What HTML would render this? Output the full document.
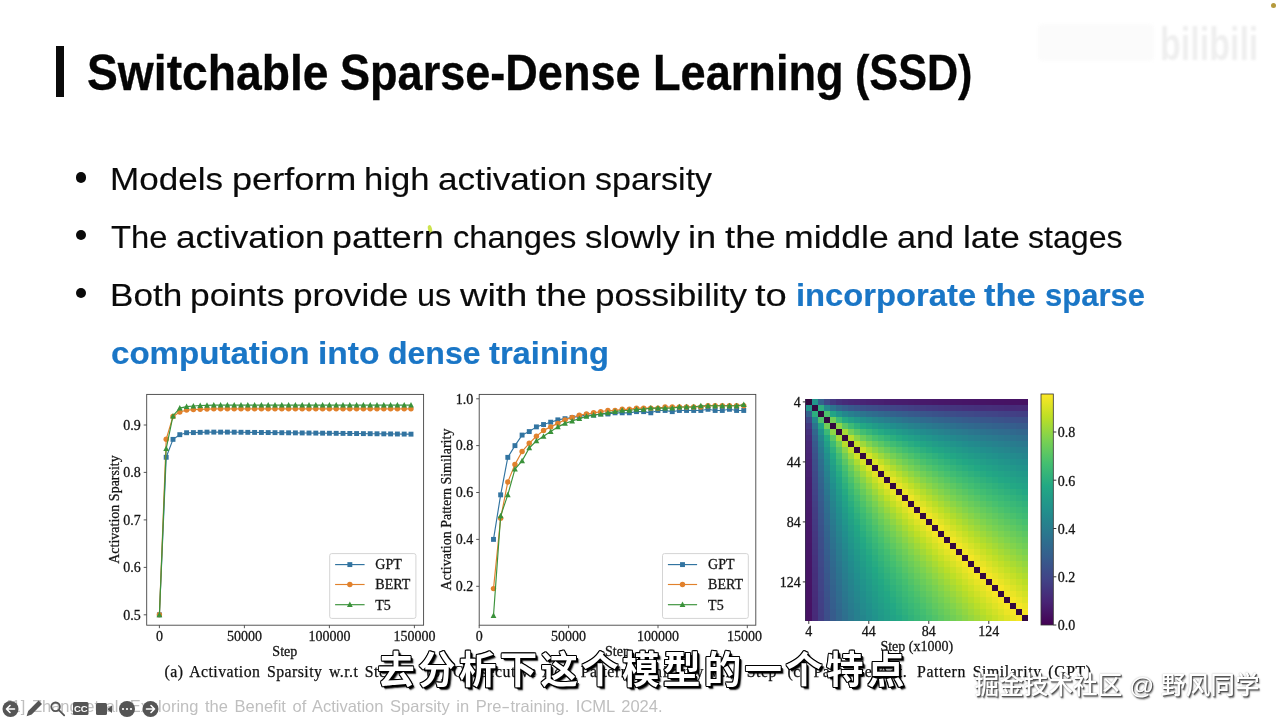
<!DOCTYPE html>
<html lang="en"><head><meta charset="utf-8"><title>Switchable Sparse-Dense Learning (SSD)</title>
<style>
html,body{margin:0;padding:0;background:#fff}
body{width:1280px;height:720px;position:relative;overflow:hidden;font-family:"Liberation Sans","Noto Sans CJK SC",sans-serif;color:#000}
.abs{position:absolute;white-space:nowrap;line-height:1}
.sx{display:inline-block;transform-origin:0 50%}
.w{position:absolute;top:0;transform-origin:0 50%;white-space:pre}
#bar{left:55.5px;top:46px;width:8px;height:51px;background:#0a0a0a}
#title{left:0;top:48.3px;font-size:49.5px;font-weight:bold;color:#050505;-webkit-text-stroke:0.35px #050505}
.bl{left:0;font-size:32.2px;color:#0a0a0a;-webkit-text-stroke:0.15px #0a0a0a}
.dot{position:absolute;left:76.1px;width:10.4px;height:10.4px;border-radius:50%;background:#0a0a0a}
.hl{color:#1a76c6;font-weight:bold;-webkit-text-stroke:0.2px #1a76c6}
.cap{top:663.5px;font-family:"Liberation Serif",serif;font-size:15.8px;color:#111;-webkit-text-stroke:0.25px #111;letter-spacing:0.45px;word-spacing:2.2px}
.cap i{display:inline-block;width:3px}
#foot{left:7px;top:698px;font-size:16.5px;color:#bfbfbf;word-spacing:2px}
#sub{left:2px;width:1281px;top:651.8px;letter-spacing:3.3px;text-align:center;font-family:"Liberation Sans","Noto Sans CJK SC",sans-serif;font-weight:bold;font-size:37.5px;color:#fff;text-shadow:-1px 0 0 #000,1px 0 0 #000,0 -1px 0 #000,0 1px 0 #000,-0.8px -0.8px 0 #000,0.8px -0.8px 0 #000,-0.8px 0.8px 0 #000,0.8px 0.8px 0 #000,2px 2px 0.5px #000,2.8px 2.8px 1.5px rgba(0,0,0,.85)}
#wm{left:974.5px;top:673.5px;font-size:24.65px;color:#fff;font-weight:500;text-shadow:1px 1px 0.5px #555,1.6px 1.6px 1.5px #888,0 0 1.5px #aaa}
#bili{left:1160px;top:21px;font-size:46px;font-weight:bold;color:#efefef;filter:blur(0.8px)}
</style></head><body>
<div class="abs" id="bar"></div>
<div class="abs" style="left:427.5px;top:224.5px;width:4px;height:8px;border-radius:50%;background:#cde34f;transform:rotate(-15deg)"></div>
<div class="abs" id="title"><span class="w" style="left:86.5px;transform:scaleX(0.9340)">Switchable</span> <span class="w" style="left:340.1px;transform:scaleX(0.9103)">Sparse-Dense</span> <span class="w" style="left:652.7px;transform:scaleX(0.9118)">Learning</span> <span class="w" style="left:855.3px;transform:scaleX(0.8716)">(SSD)</span></div>

<div class="dot" style="top:172.2px"></div>
<div class="abs bl" style="top:163px"><span class="w" style="left:110.0px;transform:scaleX(1.0893)">Models</span> <span class="w" style="left:231.5px;transform:scaleX(1.1219)">perform</span> <span class="w" style="left:364.4px;transform:scaleX(1.0749)">high</span> <span class="w" style="left:438.3px;transform:scaleX(1.0922)">activation</span> <span class="w" style="left:595.3px;transform:scaleX(1.0560)">sparsity</span></div>
<div class="dot" style="top:230px"></div>
<div class="abs bl" style="top:221px"><span class="w" style="left:110.6px;transform:scaleX(1.0168)">The</span> <span class="w" style="left:175.5px;transform:scaleX(1.0920)">activation</span> <span class="w" style="left:332.4px;transform:scaleX(1.1143)">pattern</span> <span class="w" style="left:452.6px;transform:scaleX(1.0138)">changes</span> <span class="w" style="left:584.5px;transform:scaleX(1.0828)">slowly</span> <span class="w" style="left:687.9px;transform:scaleX(1.1258)">in</span> <span class="w" style="left:724.5px;transform:scaleX(1.1331)">the</span> <span class="w" style="left:783.7px;transform:scaleX(1.1053)">middle</span> <span class="w" style="left:897.0px;transform:scaleX(1.0639)">and</span> <span class="w" style="left:962.6px;transform:scaleX(1.0947)">late</span> <span class="w" style="left:1027.8px;transform:scaleX(0.9975)">stages</span></div>
<div class="dot" style="top:287.9px"></div>
<div class="abs bl" style="top:279px"><span class="w" style="left:109.5px;transform:scaleX(1.0904)">Both</span> <span class="w" style="left:190.2px;transform:scaleX(1.0987)">points</span> <span class="w" style="left:293.0px;transform:scaleX(1.0924)">provide</span> <span class="w" style="left:416.8px;transform:scaleX(1.0079)">us</span> <span class="w" style="left:459.6px;transform:scaleX(1.1783)">with</span> <span class="w" style="left:535.5px;transform:scaleX(1.1341)">the</span> <span class="w" style="left:594.7px;transform:scaleX(1.0892)">possibility</span> <span class="w" style="left:755.2px;transform:scaleX(1.1869)">to</span> <span class="w hl" style="left:795.5px;transform:scaleX(1.0172)">incorporate</span> <span class="w hl" style="left:984.2px;transform:scaleX(1.0738)">the</span> <span class="w hl" style="left:1044.5px;transform:scaleX(0.9633)">sparse</span></div>
<div class="abs bl hl" style="top:337px"><span class="w" style="left:110.5px;transform:scaleX(1.0279)">computation</span> <span class="w" style="left:317.5px;transform:scaleX(1.0425)">into</span> <span class="w" style="left:387.5px;transform:scaleX(0.9945)">dense</span> <span class="w" style="left:488.5px;transform:scaleX(1.0160)">training</span></div>

<svg id="charts" width="1280" height="720" viewBox="0 0 1280 720" style="position:absolute;left:0;top:0" font-family='"Liberation Serif", serif' fill="#151515" stroke="none">
<style>#charts text{stroke:#151515;stroke-width:0.28px}</style>
<rect x="146.7" y="394.4" width="276.9" height="230.8" fill="#fff" stroke="#444" stroke-width="0.9"/>
<line x1="143.7" y1="614.8" x2="146.7" y2="614.8" stroke="#444" stroke-width="0.9"/>
<text x="140.7" y="619.6" font-size="14" text-anchor="end">0.5</text>
<line x1="143.7" y1="567.4" x2="146.7" y2="567.4" stroke="#444" stroke-width="0.9"/>
<text x="140.7" y="572.1" font-size="14" text-anchor="end">0.6</text>
<line x1="143.7" y1="519.9" x2="146.7" y2="519.9" stroke="#444" stroke-width="0.9"/>
<text x="140.7" y="524.7" font-size="14" text-anchor="end">0.7</text>
<line x1="143.7" y1="472.4" x2="146.7" y2="472.4" stroke="#444" stroke-width="0.9"/>
<text x="140.7" y="477.2" font-size="14" text-anchor="end">0.8</text>
<line x1="143.7" y1="425.0" x2="146.7" y2="425.0" stroke="#444" stroke-width="0.9"/>
<text x="140.7" y="429.8" font-size="14" text-anchor="end">0.9</text>
<line x1="159.4" y1="625.2" x2="159.4" y2="628.2" stroke="#444" stroke-width="0.9"/>
<text x="159.4" y="640.6" font-size="14" text-anchor="middle">0</text>
<line x1="244.4" y1="625.2" x2="244.4" y2="628.2" stroke="#444" stroke-width="0.9"/>
<text x="244.4" y="640.6" font-size="14" text-anchor="middle">50000</text>
<line x1="329.4" y1="625.2" x2="329.4" y2="628.2" stroke="#444" stroke-width="0.9"/>
<text x="329.4" y="640.6" font-size="14" text-anchor="middle">100000</text>
<line x1="414.4" y1="625.2" x2="414.4" y2="628.2" stroke="#444" stroke-width="0.9"/>
<text x="414.4" y="640.6" font-size="14" text-anchor="middle">150000</text>
<polyline points="159.40,614.80 166.20,457.27 173.00,439.38 179.80,434.68 186.60,432.73 193.40,432.59 200.20,432.35 207.00,432.12 213.80,432.12 220.60,432.12 227.40,432.12 234.20,432.19 241.00,432.27 247.80,432.34 254.60,432.42 261.40,432.50 268.20,432.57 275.00,432.65 281.80,432.72 288.60,432.80 295.40,432.87 302.20,432.95 309.00,433.02 315.80,433.10 322.60,433.18 329.40,433.25 336.20,433.33 343.00,433.40 349.80,433.48 356.60,433.55 363.40,433.63 370.20,433.70 377.00,433.78 383.80,433.86 390.60,433.93 397.40,434.01 404.20,434.08 411.00,434.16" fill="none" stroke="#3274a1" stroke-width="1.15" stroke-linejoin="round"/><rect x="156.95" y="612.35" width="4.9" height="4.9" fill="#3274a1"/><rect x="163.75" y="454.82" width="4.9" height="4.9" fill="#3274a1"/><rect x="170.55" y="436.93" width="4.9" height="4.9" fill="#3274a1"/><rect x="177.35" y="432.23" width="4.9" height="4.9" fill="#3274a1"/><rect x="184.15" y="430.28" width="4.9" height="4.9" fill="#3274a1"/><rect x="190.95" y="430.14" width="4.9" height="4.9" fill="#3274a1"/><rect x="197.75" y="429.90" width="4.9" height="4.9" fill="#3274a1"/><rect x="204.55" y="429.67" width="4.9" height="4.9" fill="#3274a1"/><rect x="211.35" y="429.67" width="4.9" height="4.9" fill="#3274a1"/><rect x="218.15" y="429.67" width="4.9" height="4.9" fill="#3274a1"/><rect x="224.95" y="429.67" width="4.9" height="4.9" fill="#3274a1"/><rect x="231.75" y="429.74" width="4.9" height="4.9" fill="#3274a1"/><rect x="238.55" y="429.82" width="4.9" height="4.9" fill="#3274a1"/><rect x="245.35" y="429.89" width="4.9" height="4.9" fill="#3274a1"/><rect x="252.15" y="429.97" width="4.9" height="4.9" fill="#3274a1"/><rect x="258.95" y="430.05" width="4.9" height="4.9" fill="#3274a1"/><rect x="265.75" y="430.12" width="4.9" height="4.9" fill="#3274a1"/><rect x="272.55" y="430.20" width="4.9" height="4.9" fill="#3274a1"/><rect x="279.35" y="430.27" width="4.9" height="4.9" fill="#3274a1"/><rect x="286.15" y="430.35" width="4.9" height="4.9" fill="#3274a1"/><rect x="292.95" y="430.42" width="4.9" height="4.9" fill="#3274a1"/><rect x="299.75" y="430.50" width="4.9" height="4.9" fill="#3274a1"/><rect x="306.55" y="430.57" width="4.9" height="4.9" fill="#3274a1"/><rect x="313.35" y="430.65" width="4.9" height="4.9" fill="#3274a1"/><rect x="320.15" y="430.73" width="4.9" height="4.9" fill="#3274a1"/><rect x="326.95" y="430.80" width="4.9" height="4.9" fill="#3274a1"/><rect x="333.75" y="430.88" width="4.9" height="4.9" fill="#3274a1"/><rect x="340.55" y="430.95" width="4.9" height="4.9" fill="#3274a1"/><rect x="347.35" y="431.03" width="4.9" height="4.9" fill="#3274a1"/><rect x="354.15" y="431.10" width="4.9" height="4.9" fill="#3274a1"/><rect x="360.95" y="431.18" width="4.9" height="4.9" fill="#3274a1"/><rect x="367.75" y="431.25" width="4.9" height="4.9" fill="#3274a1"/><rect x="374.55" y="431.33" width="4.9" height="4.9" fill="#3274a1"/><rect x="381.35" y="431.41" width="4.9" height="4.9" fill="#3274a1"/><rect x="388.15" y="431.48" width="4.9" height="4.9" fill="#3274a1"/><rect x="394.95" y="431.56" width="4.9" height="4.9" fill="#3274a1"/><rect x="401.75" y="431.63" width="4.9" height="4.9" fill="#3274a1"/><rect x="408.55" y="431.71" width="4.9" height="4.9" fill="#3274a1"/>
<polyline points="159.40,614.80 166.20,439.24 173.00,416.46 179.80,412.00 186.60,410.10 193.40,409.58 200.20,409.34 207.00,409.10 213.80,408.87 220.60,408.87 227.40,408.87 234.20,408.87 241.00,408.87 247.80,408.87 254.60,408.87 261.40,408.87 268.20,408.87 275.00,408.87 281.80,408.87 288.60,408.87 295.40,408.87 302.20,408.87 309.00,408.87 315.80,408.87 322.60,408.87 329.40,408.87 336.20,408.87 343.00,408.87 349.80,408.87 356.60,408.87 363.40,408.87 370.20,408.87 377.00,408.87 383.80,408.87 390.60,408.87 397.40,408.87 404.20,408.87 411.00,408.87" fill="none" stroke="#e1812c" stroke-width="1.15" stroke-linejoin="round"/><circle cx="159.40" cy="614.80" r="2.7" fill="#e1812c"/><circle cx="166.20" cy="439.24" r="2.7" fill="#e1812c"/><circle cx="173.00" cy="416.46" r="2.7" fill="#e1812c"/><circle cx="179.80" cy="412.00" r="2.7" fill="#e1812c"/><circle cx="186.60" cy="410.10" r="2.7" fill="#e1812c"/><circle cx="193.40" cy="409.58" r="2.7" fill="#e1812c"/><circle cx="200.20" cy="409.34" r="2.7" fill="#e1812c"/><circle cx="207.00" cy="409.10" r="2.7" fill="#e1812c"/><circle cx="213.80" cy="408.87" r="2.7" fill="#e1812c"/><circle cx="220.60" cy="408.87" r="2.7" fill="#e1812c"/><circle cx="227.40" cy="408.87" r="2.7" fill="#e1812c"/><circle cx="234.20" cy="408.87" r="2.7" fill="#e1812c"/><circle cx="241.00" cy="408.87" r="2.7" fill="#e1812c"/><circle cx="247.80" cy="408.87" r="2.7" fill="#e1812c"/><circle cx="254.60" cy="408.87" r="2.7" fill="#e1812c"/><circle cx="261.40" cy="408.87" r="2.7" fill="#e1812c"/><circle cx="268.20" cy="408.87" r="2.7" fill="#e1812c"/><circle cx="275.00" cy="408.87" r="2.7" fill="#e1812c"/><circle cx="281.80" cy="408.87" r="2.7" fill="#e1812c"/><circle cx="288.60" cy="408.87" r="2.7" fill="#e1812c"/><circle cx="295.40" cy="408.87" r="2.7" fill="#e1812c"/><circle cx="302.20" cy="408.87" r="2.7" fill="#e1812c"/><circle cx="309.00" cy="408.87" r="2.7" fill="#e1812c"/><circle cx="315.80" cy="408.87" r="2.7" fill="#e1812c"/><circle cx="322.60" cy="408.87" r="2.7" fill="#e1812c"/><circle cx="329.40" cy="408.87" r="2.7" fill="#e1812c"/><circle cx="336.20" cy="408.87" r="2.7" fill="#e1812c"/><circle cx="343.00" cy="408.87" r="2.7" fill="#e1812c"/><circle cx="349.80" cy="408.87" r="2.7" fill="#e1812c"/><circle cx="356.60" cy="408.87" r="2.7" fill="#e1812c"/><circle cx="363.40" cy="408.87" r="2.7" fill="#e1812c"/><circle cx="370.20" cy="408.87" r="2.7" fill="#e1812c"/><circle cx="377.00" cy="408.87" r="2.7" fill="#e1812c"/><circle cx="383.80" cy="408.87" r="2.7" fill="#e1812c"/><circle cx="390.60" cy="408.87" r="2.7" fill="#e1812c"/><circle cx="397.40" cy="408.87" r="2.7" fill="#e1812c"/><circle cx="404.20" cy="408.87" r="2.7" fill="#e1812c"/><circle cx="411.00" cy="408.87" r="2.7" fill="#e1812c"/>
<polyline points="159.40,614.80 166.20,448.73 173.00,415.98 179.80,408.11 186.60,406.59 193.40,406.02 200.20,405.55 207.00,405.31 213.80,405.07 220.60,405.07 227.40,405.07 234.20,405.07 241.00,405.07 247.80,405.07 254.60,405.07 261.40,405.07 268.20,405.07 275.00,405.07 281.80,405.07 288.60,405.07 295.40,405.07 302.20,405.07 309.00,405.07 315.80,405.07 322.60,405.07 329.40,405.07 336.20,405.07 343.00,405.07 349.80,405.07 356.60,405.07 363.40,405.07 370.20,405.07 377.00,405.07 383.80,405.07 390.60,405.07 397.40,405.07 404.20,405.07 411.00,405.07" fill="none" stroke="#3a923a" stroke-width="1.15" stroke-linejoin="round"/><path d="M159.40 611.70L162.30 617.20L156.50 617.20Z" fill="#3a923a"/><path d="M166.20 445.62L169.10 451.12L163.30 451.12Z" fill="#3a923a"/><path d="M173.00 412.88L175.90 418.38L170.10 418.38Z" fill="#3a923a"/><path d="M179.80 405.01L182.70 410.51L176.90 410.51Z" fill="#3a923a"/><path d="M186.60 403.49L189.50 408.99L183.70 408.99Z" fill="#3a923a"/><path d="M193.40 402.92L196.30 408.42L190.50 408.42Z" fill="#3a923a"/><path d="M200.20 402.45L203.10 407.95L197.30 407.95Z" fill="#3a923a"/><path d="M207.00 402.21L209.90 407.71L204.10 407.71Z" fill="#3a923a"/><path d="M213.80 401.97L216.70 407.47L210.90 407.47Z" fill="#3a923a"/><path d="M220.60 401.97L223.50 407.47L217.70 407.47Z" fill="#3a923a"/><path d="M227.40 401.97L230.30 407.47L224.50 407.47Z" fill="#3a923a"/><path d="M234.20 401.97L237.10 407.47L231.30 407.47Z" fill="#3a923a"/><path d="M241.00 401.97L243.90 407.47L238.10 407.47Z" fill="#3a923a"/><path d="M247.80 401.97L250.70 407.47L244.90 407.47Z" fill="#3a923a"/><path d="M254.60 401.97L257.50 407.47L251.70 407.47Z" fill="#3a923a"/><path d="M261.40 401.97L264.30 407.47L258.50 407.47Z" fill="#3a923a"/><path d="M268.20 401.97L271.10 407.47L265.30 407.47Z" fill="#3a923a"/><path d="M275.00 401.97L277.90 407.47L272.10 407.47Z" fill="#3a923a"/><path d="M281.80 401.97L284.70 407.47L278.90 407.47Z" fill="#3a923a"/><path d="M288.60 401.97L291.50 407.47L285.70 407.47Z" fill="#3a923a"/><path d="M295.40 401.97L298.30 407.47L292.50 407.47Z" fill="#3a923a"/><path d="M302.20 401.97L305.10 407.47L299.30 407.47Z" fill="#3a923a"/><path d="M309.00 401.97L311.90 407.47L306.10 407.47Z" fill="#3a923a"/><path d="M315.80 401.97L318.70 407.47L312.90 407.47Z" fill="#3a923a"/><path d="M322.60 401.97L325.50 407.47L319.70 407.47Z" fill="#3a923a"/><path d="M329.40 401.97L332.30 407.47L326.50 407.47Z" fill="#3a923a"/><path d="M336.20 401.97L339.10 407.47L333.30 407.47Z" fill="#3a923a"/><path d="M343.00 401.97L345.90 407.47L340.10 407.47Z" fill="#3a923a"/><path d="M349.80 401.97L352.70 407.47L346.90 407.47Z" fill="#3a923a"/><path d="M356.60 401.97L359.50 407.47L353.70 407.47Z" fill="#3a923a"/><path d="M363.40 401.97L366.30 407.47L360.50 407.47Z" fill="#3a923a"/><path d="M370.20 401.97L373.10 407.47L367.30 407.47Z" fill="#3a923a"/><path d="M377.00 401.97L379.90 407.47L374.10 407.47Z" fill="#3a923a"/><path d="M383.80 401.97L386.70 407.47L380.90 407.47Z" fill="#3a923a"/><path d="M390.60 401.97L393.50 407.47L387.70 407.47Z" fill="#3a923a"/><path d="M397.40 401.97L400.30 407.47L394.50 407.47Z" fill="#3a923a"/><path d="M404.20 401.97L407.10 407.47L401.30 407.47Z" fill="#3a923a"/><path d="M411.00 401.97L413.90 407.47L408.10 407.47Z" fill="#3a923a"/>
<rect x="329.7" y="553.6" width="86.2" height="64.8" rx="2" fill="#fff" fill-opacity="0.85" stroke="#d4d4d4" stroke-width="1"/><line x1="335.1" y1="564.6" x2="364.6" y2="564.6" stroke="#3274a1" stroke-width="1.15"/><rect x="347.40" y="562.15" width="4.9" height="4.9" fill="#3274a1"/><text x="375.3" y="569.4" font-size="14">GPT</text><line x1="335.1" y1="584.5" x2="364.6" y2="584.5" stroke="#e1812c" stroke-width="1.15"/><circle cx="349.85" cy="584.50" r="2.7" fill="#e1812c"/><text x="375.3" y="589.3" font-size="14">BERT</text><line x1="335.1" y1="604.7" x2="364.6" y2="604.7" stroke="#3a923a" stroke-width="1.15"/><path d="M349.85 601.60L352.75 607.10L346.95 607.10Z" fill="#3a923a"/><text x="375.3" y="609.5" font-size="14">T5</text>
<text x="284.8" y="655.6" font-size="14" text-anchor="middle">Step</text>
<text transform="translate(118.5,509.5) rotate(-90)" font-size="14" text-anchor="middle">Activation Sparsity</text>
<rect x="479.2" y="394.4" width="276.6" height="230.8" fill="#fff" stroke="#444" stroke-width="0.9"/>
<line x1="476.2" y1="586.3" x2="479.2" y2="586.3" stroke="#444" stroke-width="0.9"/>
<text x="473.2" y="591.1" font-size="14" text-anchor="end">0.2</text>
<line x1="476.2" y1="539.4" x2="479.2" y2="539.4" stroke="#444" stroke-width="0.9"/>
<text x="473.2" y="544.2" font-size="14" text-anchor="end">0.4</text>
<line x1="476.2" y1="492.5" x2="479.2" y2="492.5" stroke="#444" stroke-width="0.9"/>
<text x="473.2" y="497.3" font-size="14" text-anchor="end">0.6</text>
<line x1="476.2" y1="445.6" x2="479.2" y2="445.6" stroke="#444" stroke-width="0.9"/>
<text x="473.2" y="450.4" font-size="14" text-anchor="end">0.8</text>
<line x1="476.2" y1="398.8" x2="479.2" y2="398.8" stroke="#444" stroke-width="0.9"/>
<text x="473.2" y="403.6" font-size="14" text-anchor="end">1.0</text>
<line x1="479.2" y1="625.2" x2="479.2" y2="628.2" stroke="#444" stroke-width="0.9"/>
<text x="479.2" y="640.6" font-size="14" text-anchor="middle">0</text>
<line x1="568.6" y1="625.2" x2="568.6" y2="628.2" stroke="#444" stroke-width="0.9"/>
<text x="568.6" y="640.6" font-size="14" text-anchor="middle">50000</text>
<line x1="658.0" y1="625.2" x2="658.0" y2="628.2" stroke="#444" stroke-width="0.9"/>
<text x="658.0" y="640.6" font-size="14" text-anchor="middle">100000</text>
<line x1="747.3" y1="625.2" x2="747.3" y2="628.2" stroke="#444" stroke-width="0.9"/>
<text x="727" y="640.6" font-size="14" text-anchor="start">15000</text>
<polyline points="493.50,539.39 500.65,494.85 507.80,457.35 514.95,445.63 522.10,435.08 529.25,431.57 536.40,426.88 543.55,424.53 550.70,422.19 557.85,419.85 565.00,418.67 572.15,417.50 579.30,416.33 586.45,415.16 593.60,415.16 600.75,413.99 607.90,413.99 615.05,412.81 622.20,412.81 629.35,412.81 636.50,411.64 643.65,411.64 650.80,412.81 657.95,410.47 665.10,410.47 672.25,411.64 679.40,410.47 686.55,410.47 693.70,410.47 700.85,410.47 708.00,409.30 715.15,410.47 722.30,410.47 729.45,409.30 736.60,410.47 743.75,410.47" fill="none" stroke="#3274a1" stroke-width="1.15" stroke-linejoin="round"/><rect x="491.05" y="536.94" width="4.9" height="4.9" fill="#3274a1"/><rect x="498.20" y="492.40" width="4.9" height="4.9" fill="#3274a1"/><rect x="505.35" y="454.90" width="4.9" height="4.9" fill="#3274a1"/><rect x="512.50" y="443.18" width="4.9" height="4.9" fill="#3274a1"/><rect x="519.65" y="432.63" width="4.9" height="4.9" fill="#3274a1"/><rect x="526.80" y="429.12" width="4.9" height="4.9" fill="#3274a1"/><rect x="533.95" y="424.43" width="4.9" height="4.9" fill="#3274a1"/><rect x="541.10" y="422.08" width="4.9" height="4.9" fill="#3274a1"/><rect x="548.25" y="419.74" width="4.9" height="4.9" fill="#3274a1"/><rect x="555.40" y="417.40" width="4.9" height="4.9" fill="#3274a1"/><rect x="562.55" y="416.22" width="4.9" height="4.9" fill="#3274a1"/><rect x="569.70" y="415.05" width="4.9" height="4.9" fill="#3274a1"/><rect x="576.85" y="413.88" width="4.9" height="4.9" fill="#3274a1"/><rect x="584.00" y="412.71" width="4.9" height="4.9" fill="#3274a1"/><rect x="591.15" y="412.71" width="4.9" height="4.9" fill="#3274a1"/><rect x="598.30" y="411.54" width="4.9" height="4.9" fill="#3274a1"/><rect x="605.45" y="411.54" width="4.9" height="4.9" fill="#3274a1"/><rect x="612.60" y="410.36" width="4.9" height="4.9" fill="#3274a1"/><rect x="619.75" y="410.36" width="4.9" height="4.9" fill="#3274a1"/><rect x="626.90" y="410.36" width="4.9" height="4.9" fill="#3274a1"/><rect x="634.05" y="409.19" width="4.9" height="4.9" fill="#3274a1"/><rect x="641.20" y="409.19" width="4.9" height="4.9" fill="#3274a1"/><rect x="648.35" y="410.36" width="4.9" height="4.9" fill="#3274a1"/><rect x="655.50" y="408.02" width="4.9" height="4.9" fill="#3274a1"/><rect x="662.65" y="408.02" width="4.9" height="4.9" fill="#3274a1"/><rect x="669.80" y="409.19" width="4.9" height="4.9" fill="#3274a1"/><rect x="676.95" y="408.02" width="4.9" height="4.9" fill="#3274a1"/><rect x="684.10" y="408.02" width="4.9" height="4.9" fill="#3274a1"/><rect x="691.25" y="408.02" width="4.9" height="4.9" fill="#3274a1"/><rect x="698.40" y="408.02" width="4.9" height="4.9" fill="#3274a1"/><rect x="705.55" y="406.85" width="4.9" height="4.9" fill="#3274a1"/><rect x="712.70" y="408.02" width="4.9" height="4.9" fill="#3274a1"/><rect x="719.85" y="408.02" width="4.9" height="4.9" fill="#3274a1"/><rect x="727.00" y="406.85" width="4.9" height="4.9" fill="#3274a1"/><rect x="734.15" y="408.02" width="4.9" height="4.9" fill="#3274a1"/><rect x="741.30" y="408.02" width="4.9" height="4.9" fill="#3274a1"/>
<polyline points="493.50,588.61 500.65,518.29 507.80,481.96 514.95,464.38 522.10,451.49 529.25,443.29 536.40,436.25 543.55,430.39 550.70,426.88 557.85,423.36 565.00,419.85 572.15,417.50 579.30,415.16 586.45,413.99 593.60,412.81 600.75,411.64 607.90,410.47 615.05,410.47 622.20,409.30 629.35,409.30 636.50,408.13 643.65,408.13 650.80,408.13 657.95,408.13 665.10,406.95 672.25,406.95 679.40,406.95 686.55,406.95 693.70,406.95 700.85,406.95 708.00,405.78 715.15,405.78 722.30,405.78 729.45,405.78 736.60,405.78 743.75,405.78" fill="none" stroke="#e1812c" stroke-width="1.15" stroke-linejoin="round"/><circle cx="493.50" cy="588.61" r="2.7" fill="#e1812c"/><circle cx="500.65" cy="518.29" r="2.7" fill="#e1812c"/><circle cx="507.80" cy="481.96" r="2.7" fill="#e1812c"/><circle cx="514.95" cy="464.38" r="2.7" fill="#e1812c"/><circle cx="522.10" cy="451.49" r="2.7" fill="#e1812c"/><circle cx="529.25" cy="443.29" r="2.7" fill="#e1812c"/><circle cx="536.40" cy="436.25" r="2.7" fill="#e1812c"/><circle cx="543.55" cy="430.39" r="2.7" fill="#e1812c"/><circle cx="550.70" cy="426.88" r="2.7" fill="#e1812c"/><circle cx="557.85" cy="423.36" r="2.7" fill="#e1812c"/><circle cx="565.00" cy="419.85" r="2.7" fill="#e1812c"/><circle cx="572.15" cy="417.50" r="2.7" fill="#e1812c"/><circle cx="579.30" cy="415.16" r="2.7" fill="#e1812c"/><circle cx="586.45" cy="413.99" r="2.7" fill="#e1812c"/><circle cx="593.60" cy="412.81" r="2.7" fill="#e1812c"/><circle cx="600.75" cy="411.64" r="2.7" fill="#e1812c"/><circle cx="607.90" cy="410.47" r="2.7" fill="#e1812c"/><circle cx="615.05" cy="410.47" r="2.7" fill="#e1812c"/><circle cx="622.20" cy="409.30" r="2.7" fill="#e1812c"/><circle cx="629.35" cy="409.30" r="2.7" fill="#e1812c"/><circle cx="636.50" cy="408.13" r="2.7" fill="#e1812c"/><circle cx="643.65" cy="408.13" r="2.7" fill="#e1812c"/><circle cx="650.80" cy="408.13" r="2.7" fill="#e1812c"/><circle cx="657.95" cy="408.13" r="2.7" fill="#e1812c"/><circle cx="665.10" cy="406.95" r="2.7" fill="#e1812c"/><circle cx="672.25" cy="406.95" r="2.7" fill="#e1812c"/><circle cx="679.40" cy="406.95" r="2.7" fill="#e1812c"/><circle cx="686.55" cy="406.95" r="2.7" fill="#e1812c"/><circle cx="693.70" cy="406.95" r="2.7" fill="#e1812c"/><circle cx="700.85" cy="406.95" r="2.7" fill="#e1812c"/><circle cx="708.00" cy="405.78" r="2.7" fill="#e1812c"/><circle cx="715.15" cy="405.78" r="2.7" fill="#e1812c"/><circle cx="722.30" cy="405.78" r="2.7" fill="#e1812c"/><circle cx="729.45" cy="405.78" r="2.7" fill="#e1812c"/><circle cx="736.60" cy="405.78" r="2.7" fill="#e1812c"/><circle cx="743.75" cy="405.78" r="2.7" fill="#e1812c"/>
<polyline points="493.50,615.57 500.65,515.95 507.80,494.85 514.95,469.07 522.10,460.87 529.25,447.97 536.40,440.94 543.55,436.25 550.70,431.57 557.85,426.88 565.00,423.36 572.15,421.02 579.30,418.67 586.45,416.33 593.60,415.16 600.75,413.99 607.90,412.81 615.05,411.64 622.20,410.47 629.35,410.47 636.50,409.30 643.65,409.30 650.80,408.13 657.95,408.13 665.10,408.13 672.25,408.13 679.40,406.95 686.55,406.95 693.70,406.95 700.85,405.78 708.00,405.78 715.15,405.78 722.30,405.78 729.45,405.78 736.60,405.78 743.75,404.61" fill="none" stroke="#3a923a" stroke-width="1.15" stroke-linejoin="round"/><path d="M493.50 612.47L496.40 617.97L490.60 617.97Z" fill="#3a923a"/><path d="M500.65 512.85L503.55 518.35L497.75 518.35Z" fill="#3a923a"/><path d="M507.80 491.75L510.70 497.25L504.90 497.25Z" fill="#3a923a"/><path d="M514.95 465.97L517.85 471.47L512.05 471.47Z" fill="#3a923a"/><path d="M522.10 457.77L525.00 463.27L519.20 463.27Z" fill="#3a923a"/><path d="M529.25 444.87L532.15 450.37L526.35 450.37Z" fill="#3a923a"/><path d="M536.40 437.84L539.30 443.34L533.50 443.34Z" fill="#3a923a"/><path d="M543.55 433.15L546.45 438.65L540.65 438.65Z" fill="#3a923a"/><path d="M550.70 428.47L553.60 433.97L547.80 433.97Z" fill="#3a923a"/><path d="M557.85 423.78L560.75 429.28L554.95 429.28Z" fill="#3a923a"/><path d="M565.00 420.26L567.90 425.76L562.10 425.76Z" fill="#3a923a"/><path d="M572.15 417.92L575.05 423.42L569.25 423.42Z" fill="#3a923a"/><path d="M579.30 415.57L582.20 421.07L576.40 421.07Z" fill="#3a923a"/><path d="M586.45 413.23L589.35 418.73L583.55 418.73Z" fill="#3a923a"/><path d="M593.60 412.06L596.50 417.56L590.70 417.56Z" fill="#3a923a"/><path d="M600.75 410.89L603.65 416.39L597.85 416.39Z" fill="#3a923a"/><path d="M607.90 409.71L610.80 415.21L605.00 415.21Z" fill="#3a923a"/><path d="M615.05 408.54L617.95 414.04L612.15 414.04Z" fill="#3a923a"/><path d="M622.20 407.37L625.10 412.87L619.30 412.87Z" fill="#3a923a"/><path d="M629.35 407.37L632.25 412.87L626.45 412.87Z" fill="#3a923a"/><path d="M636.50 406.20L639.40 411.70L633.60 411.70Z" fill="#3a923a"/><path d="M643.65 406.20L646.55 411.70L640.75 411.70Z" fill="#3a923a"/><path d="M650.80 405.03L653.70 410.53L647.90 410.53Z" fill="#3a923a"/><path d="M657.95 405.03L660.85 410.53L655.05 410.53Z" fill="#3a923a"/><path d="M665.10 405.03L668.00 410.53L662.20 410.53Z" fill="#3a923a"/><path d="M672.25 405.03L675.15 410.53L669.35 410.53Z" fill="#3a923a"/><path d="M679.40 403.85L682.30 409.35L676.50 409.35Z" fill="#3a923a"/><path d="M686.55 403.85L689.45 409.35L683.65 409.35Z" fill="#3a923a"/><path d="M693.70 403.85L696.60 409.35L690.80 409.35Z" fill="#3a923a"/><path d="M700.85 402.68L703.75 408.18L697.95 408.18Z" fill="#3a923a"/><path d="M708.00 402.68L710.90 408.18L705.10 408.18Z" fill="#3a923a"/><path d="M715.15 402.68L718.05 408.18L712.25 408.18Z" fill="#3a923a"/><path d="M722.30 402.68L725.20 408.18L719.40 408.18Z" fill="#3a923a"/><path d="M729.45 402.68L732.35 408.18L726.55 408.18Z" fill="#3a923a"/><path d="M736.60 402.68L739.50 408.18L733.70 408.18Z" fill="#3a923a"/><path d="M743.75 401.51L746.65 407.01L740.85 407.01Z" fill="#3a923a"/>
<rect x="662.5" y="553.6" width="85.8" height="64.8" rx="2" fill="#fff" fill-opacity="0.85" stroke="#d4d4d4" stroke-width="1"/><line x1="667.9" y1="564.6" x2="697.1" y2="564.6" stroke="#3274a1" stroke-width="1.15"/><rect x="680.05" y="562.15" width="4.9" height="4.9" fill="#3274a1"/><text x="708.1" y="569.4" font-size="14">GPT</text><line x1="667.9" y1="584.5" x2="697.1" y2="584.5" stroke="#e1812c" stroke-width="1.15"/><circle cx="682.50" cy="584.50" r="2.7" fill="#e1812c"/><text x="708.1" y="589.3" font-size="14">BERT</text><line x1="667.9" y1="604.7" x2="697.1" y2="604.7" stroke="#3a923a" stroke-width="1.15"/><path d="M682.50 601.60L685.40 607.10L679.60 607.10Z" fill="#3a923a"/><text x="708.1" y="609.5" font-size="14">T5</text>
<text x="617.5" y="655.6" font-size="14" text-anchor="middle">Step</text>
<text transform="translate(451,509.5) rotate(-90)" font-size="14" text-anchor="middle">Activation Pattern Similarity</text>
<g shape-rendering="crispEdges">
<rect x="805.4" y="398.5" width="222.8" height="222.8" fill="#3a2a55"/>
<rect x="805.8" y="398.9" width="6.2" height="6.2" fill="#33093f"/>
<rect x="811.8" y="398.9" width="6.2" height="6.2" fill="#21958b"/>
<rect x="817.8" y="398.9" width="6.2" height="6.2" fill="#33638d"/>
<rect x="823.8" y="398.9" width="6.2" height="6.2" fill="#3f4988"/>
<rect x="829.8" y="398.9" width="6.2" height="6.2" fill="#433981"/>
<rect x="835.8" y="398.9" width="6.2" height="6.2" fill="#45307c"/>
<rect x="841.8" y="398.9" width="6.2" height="6.2" fill="#462b79"/>
<rect x="847.8" y="398.9" width="6.2" height="6.2" fill="#472877"/>
<rect x="853.8" y="398.9" width="6.2" height="6.2" fill="#482676"/>
<rect x="859.8" y="398.9" width="6.2" height="6.2" fill="#482475"/>
<rect x="865.8" y="398.9" width="6.2" height="6.2" fill="#482273"/>
<rect x="871.8" y="398.9" width="6.2" height="6.2" fill="#482172"/>
<rect x="877.8" y="398.9" width="6.2" height="6.2" fill="#482071"/>
<rect x="883.8" y="398.9" width="6.2" height="6.2" fill="#471e6f"/>
<rect x="889.8" y="398.9" width="6.2" height="6.2" fill="#471d6e"/>
<rect x="895.8" y="398.9" width="6.2" height="6.2" fill="#471c6e"/>
<rect x="901.8" y="398.9" width="6.2" height="6.2" fill="#471c6d"/>
<rect x="907.8" y="398.9" width="6.2" height="6.2" fill="#471b6c"/>
<rect x="913.8" y="398.9" width="6.2" height="6.2" fill="#471a6b"/>
<rect x="919.8" y="398.9" width="6.2" height="6.2" fill="#47196b"/>
<rect x="925.8" y="398.9" width="6.2" height="6.2" fill="#47196a"/>
<rect x="931.8" y="398.9" width="6.2" height="6.2" fill="#471869"/>
<rect x="937.8" y="398.9" width="6.2" height="6.2" fill="#471769"/>
<rect x="943.8" y="398.9" width="6.2" height="6.2" fill="#471768"/>
<rect x="949.8" y="398.9" width="6.2" height="6.2" fill="#461668"/>
<rect x="955.8" y="398.9" width="6.2" height="6.2" fill="#461667"/>
<rect x="961.8" y="398.9" width="6.2" height="6.2" fill="#461567"/>
<rect x="967.8" y="398.9" width="6.2" height="6.2" fill="#461566"/>
<rect x="973.8" y="398.9" width="12.2" height="6.2" fill="#461466"/>
<rect x="985.8" y="398.9" width="6.2" height="6.2" fill="#461465"/>
<rect x="991.8" y="398.9" width="12.2" height="6.2" fill="#461365"/>
<rect x="1003.8" y="398.9" width="6.2" height="6.2" fill="#461364"/>
<rect x="1009.8" y="398.9" width="12.2" height="6.2" fill="#461264"/>
<rect x="1021.8" y="398.9" width="6.2" height="6.2" fill="#461263"/>
<rect x="805.8" y="404.9" width="6.2" height="6.2" fill="#21958b"/>
<rect x="811.8" y="404.9" width="6.2" height="6.2" fill="#33093f"/>
<rect x="817.8" y="404.9" width="6.2" height="6.2" fill="#2daf7e"/>
<rect x="823.8" y="404.9" width="6.2" height="6.2" fill="#23898d"/>
<rect x="829.8" y="404.9" width="6.2" height="6.2" fill="#2c748e"/>
<rect x="835.8" y="404.9" width="6.2" height="6.2" fill="#31678d"/>
<rect x="841.8" y="404.9" width="6.2" height="6.2" fill="#355f8d"/>
<rect x="847.8" y="404.9" width="6.2" height="6.2" fill="#37598c"/>
<rect x="853.8" y="404.9" width="6.2" height="6.2" fill="#39558b"/>
<rect x="859.8" y="404.9" width="6.2" height="6.2" fill="#3b518a"/>
<rect x="865.8" y="404.9" width="6.2" height="6.2" fill="#3c4e89"/>
<rect x="871.8" y="404.9" width="6.2" height="6.2" fill="#3d4c89"/>
<rect x="877.8" y="404.9" width="6.2" height="6.2" fill="#3e4988"/>
<rect x="883.8" y="404.9" width="6.2" height="6.2" fill="#3f4788"/>
<rect x="889.8" y="404.9" width="6.2" height="6.2" fill="#404587"/>
<rect x="895.8" y="404.9" width="6.2" height="6.2" fill="#414387"/>
<rect x="901.8" y="404.9" width="6.2" height="6.2" fill="#414186"/>
<rect x="907.8" y="404.9" width="6.2" height="6.2" fill="#423f84"/>
<rect x="913.8" y="404.9" width="6.2" height="6.2" fill="#423d83"/>
<rect x="919.8" y="404.9" width="6.2" height="6.2" fill="#433c82"/>
<rect x="925.8" y="404.9" width="6.2" height="6.2" fill="#433a82"/>
<rect x="931.8" y="404.9" width="6.2" height="6.2" fill="#433981"/>
<rect x="937.8" y="404.9" width="6.2" height="6.2" fill="#443780"/>
<rect x="943.8" y="404.9" width="6.2" height="6.2" fill="#44367f"/>
<rect x="949.8" y="404.9" width="6.2" height="6.2" fill="#44357e"/>
<rect x="955.8" y="404.9" width="6.2" height="6.2" fill="#44347e"/>
<rect x="961.8" y="404.9" width="6.2" height="6.2" fill="#45327d"/>
<rect x="967.8" y="404.9" width="6.2" height="6.2" fill="#45317d"/>
<rect x="973.8" y="404.9" width="6.2" height="6.2" fill="#45307c"/>
<rect x="979.8" y="404.9" width="6.2" height="6.2" fill="#452f7b"/>
<rect x="985.8" y="404.9" width="6.2" height="6.2" fill="#462f7b"/>
<rect x="991.8" y="404.9" width="6.2" height="6.2" fill="#462e7a"/>
<rect x="997.8" y="404.9" width="6.2" height="6.2" fill="#462d7a"/>
<rect x="1003.8" y="404.9" width="6.2" height="6.2" fill="#462c79"/>
<rect x="1009.8" y="404.9" width="6.2" height="6.2" fill="#462b79"/>
<rect x="1015.8" y="404.9" width="6.2" height="6.2" fill="#472b79"/>
<rect x="1021.8" y="404.9" width="6.2" height="6.2" fill="#472a78"/>
<rect x="805.8" y="410.9" width="6.2" height="6.2" fill="#33638d"/>
<rect x="811.8" y="410.9" width="6.2" height="6.2" fill="#2daf7e"/>
<rect x="817.8" y="410.9" width="6.2" height="6.2" fill="#33093f"/>
<rect x="823.8" y="410.9" width="6.2" height="6.2" fill="#4dc26b"/>
<rect x="829.8" y="410.9" width="6.2" height="6.2" fill="#22a485"/>
<rect x="835.8" y="410.9" width="6.2" height="6.2" fill="#21938c"/>
<rect x="841.8" y="410.9" width="6.2" height="6.2" fill="#24878d"/>
<rect x="847.8" y="410.9" width="6.2" height="6.2" fill="#277f8e"/>
<rect x="853.8" y="410.9" width="6.2" height="6.2" fill="#29798e"/>
<rect x="859.8" y="410.9" width="6.2" height="6.2" fill="#2c748e"/>
<rect x="865.8" y="410.9" width="6.2" height="6.2" fill="#2e6f8e"/>
<rect x="871.8" y="410.9" width="6.2" height="6.2" fill="#2f6c8e"/>
<rect x="877.8" y="410.9" width="6.2" height="6.2" fill="#31688e"/>
<rect x="883.8" y="410.9" width="6.2" height="6.2" fill="#32658d"/>
<rect x="889.8" y="410.9" width="6.2" height="6.2" fill="#33628d"/>
<rect x="895.8" y="410.9" width="6.2" height="6.2" fill="#345f8d"/>
<rect x="901.8" y="410.9" width="6.2" height="6.2" fill="#365d8d"/>
<rect x="907.8" y="410.9" width="6.2" height="6.2" fill="#375a8c"/>
<rect x="913.8" y="410.9" width="6.2" height="6.2" fill="#38588c"/>
<rect x="919.8" y="410.9" width="6.2" height="6.2" fill="#39568b"/>
<rect x="925.8" y="410.9" width="6.2" height="6.2" fill="#3a548b"/>
<rect x="931.8" y="410.9" width="6.2" height="6.2" fill="#3a528a"/>
<rect x="937.8" y="410.9" width="6.2" height="6.2" fill="#3b508a"/>
<rect x="943.8" y="410.9" width="6.2" height="6.2" fill="#3c4e89"/>
<rect x="949.8" y="410.9" width="6.2" height="6.2" fill="#3d4d89"/>
<rect x="955.8" y="410.9" width="6.2" height="6.2" fill="#3d4b89"/>
<rect x="961.8" y="410.9" width="6.2" height="6.2" fill="#3e4a89"/>
<rect x="967.8" y="410.9" width="6.2" height="6.2" fill="#3f4988"/>
<rect x="973.8" y="410.9" width="6.2" height="6.2" fill="#3f4788"/>
<rect x="979.8" y="410.9" width="6.2" height="6.2" fill="#404688"/>
<rect x="985.8" y="410.9" width="6.2" height="6.2" fill="#404587"/>
<rect x="991.8" y="410.9" width="6.2" height="6.2" fill="#414487"/>
<rect x="997.8" y="410.9" width="6.2" height="6.2" fill="#414286"/>
<rect x="1003.8" y="410.9" width="6.2" height="6.2" fill="#414186"/>
<rect x="1009.8" y="410.9" width="6.2" height="6.2" fill="#424085"/>
<rect x="1015.8" y="410.9" width="6.2" height="6.2" fill="#423f84"/>
<rect x="1021.8" y="410.9" width="6.2" height="6.2" fill="#423e84"/>
<rect x="805.8" y="416.9" width="6.2" height="6.2" fill="#3f4988"/>
<rect x="811.8" y="416.9" width="6.2" height="6.2" fill="#23898d"/>
<rect x="817.8" y="416.9" width="6.2" height="6.2" fill="#4dc26b"/>
<rect x="823.8" y="416.9" width="6.2" height="6.2" fill="#33093f"/>
<rect x="829.8" y="416.9" width="6.2" height="6.2" fill="#70ce57"/>
<rect x="835.8" y="416.9" width="6.2" height="6.2" fill="#3bb976"/>
<rect x="841.8" y="416.9" width="6.2" height="6.2" fill="#24a983"/>
<rect x="847.8" y="416.9" width="6.2" height="6.2" fill="#229f87"/>
<rect x="853.8" y="416.9" width="6.2" height="6.2" fill="#21978a"/>
<rect x="859.8" y="416.9" width="6.2" height="6.2" fill="#21908c"/>
<rect x="865.8" y="416.9" width="6.2" height="6.2" fill="#238b8d"/>
<rect x="871.8" y="416.9" width="6.2" height="6.2" fill="#25868d"/>
<rect x="877.8" y="416.9" width="6.2" height="6.2" fill="#26828e"/>
<rect x="883.8" y="416.9" width="6.2" height="6.2" fill="#287e8e"/>
<rect x="889.8" y="416.9" width="6.2" height="6.2" fill="#297a8e"/>
<rect x="895.8" y="416.9" width="6.2" height="6.2" fill="#2a778e"/>
<rect x="901.8" y="416.9" width="6.2" height="6.2" fill="#2c738e"/>
<rect x="907.8" y="416.9" width="6.2" height="6.2" fill="#2d708e"/>
<rect x="913.8" y="416.9" width="6.2" height="6.2" fill="#2e6e8e"/>
<rect x="919.8" y="416.9" width="6.2" height="6.2" fill="#2f6b8e"/>
<rect x="925.8" y="416.9" width="6.2" height="6.2" fill="#31698e"/>
<rect x="931.8" y="416.9" width="6.2" height="6.2" fill="#32668d"/>
<rect x="937.8" y="416.9" width="6.2" height="6.2" fill="#32648d"/>
<rect x="943.8" y="416.9" width="6.2" height="6.2" fill="#33628d"/>
<rect x="949.8" y="416.9" width="6.2" height="6.2" fill="#34608d"/>
<rect x="955.8" y="416.9" width="6.2" height="6.2" fill="#355e8d"/>
<rect x="961.8" y="416.9" width="6.2" height="6.2" fill="#365c8c"/>
<rect x="967.8" y="416.9" width="6.2" height="6.2" fill="#375a8c"/>
<rect x="973.8" y="416.9" width="6.2" height="6.2" fill="#37598c"/>
<rect x="979.8" y="416.9" width="6.2" height="6.2" fill="#38578b"/>
<rect x="985.8" y="416.9" width="6.2" height="6.2" fill="#39568b"/>
<rect x="991.8" y="416.9" width="6.2" height="6.2" fill="#39548b"/>
<rect x="997.8" y="416.9" width="6.2" height="6.2" fill="#3a538a"/>
<rect x="1003.8" y="416.9" width="6.2" height="6.2" fill="#3b518a"/>
<rect x="1009.8" y="416.9" width="6.2" height="6.2" fill="#3b508a"/>
<rect x="1015.8" y="416.9" width="6.2" height="6.2" fill="#3c4f8a"/>
<rect x="1021.8" y="416.9" width="6.2" height="6.2" fill="#3c4e89"/>
<rect x="805.8" y="422.9" width="6.2" height="6.2" fill="#433981"/>
<rect x="811.8" y="422.9" width="6.2" height="6.2" fill="#2c748e"/>
<rect x="817.8" y="422.9" width="6.2" height="6.2" fill="#22a485"/>
<rect x="823.8" y="422.9" width="6.2" height="6.2" fill="#70ce57"/>
<rect x="829.8" y="422.9" width="6.2" height="6.2" fill="#33093f"/>
<rect x="835.8" y="422.9" width="6.2" height="6.2" fill="#8dd545"/>
<rect x="841.8" y="422.9" width="6.2" height="6.2" fill="#59c664"/>
<rect x="847.8" y="422.9" width="6.2" height="6.2" fill="#3dba75"/>
<rect x="853.8" y="422.9" width="6.2" height="6.2" fill="#2eb07d"/>
<rect x="859.8" y="422.9" width="6.2" height="6.2" fill="#23a884"/>
<rect x="865.8" y="422.9" width="6.2" height="6.2" fill="#22a286"/>
<rect x="871.8" y="422.9" width="6.2" height="6.2" fill="#219c88"/>
<rect x="877.8" y="422.9" width="6.2" height="6.2" fill="#21978a"/>
<rect x="883.8" y="422.9" width="6.2" height="6.2" fill="#21938c"/>
<rect x="889.8" y="422.9" width="6.2" height="6.2" fill="#218e8d"/>
<rect x="895.8" y="422.9" width="6.2" height="6.2" fill="#238a8d"/>
<rect x="901.8" y="422.9" width="6.2" height="6.2" fill="#24878d"/>
<rect x="907.8" y="422.9" width="6.2" height="6.2" fill="#26838d"/>
<rect x="913.8" y="422.9" width="6.2" height="6.2" fill="#27808e"/>
<rect x="919.8" y="422.9" width="6.2" height="6.2" fill="#287d8e"/>
<rect x="925.8" y="422.9" width="6.2" height="6.2" fill="#297a8e"/>
<rect x="931.8" y="422.9" width="6.2" height="6.2" fill="#2a778e"/>
<rect x="937.8" y="422.9" width="6.2" height="6.2" fill="#2b758e"/>
<rect x="943.8" y="422.9" width="6.2" height="6.2" fill="#2c728e"/>
<rect x="949.8" y="422.9" width="6.2" height="6.2" fill="#2d708e"/>
<rect x="955.8" y="422.9" width="6.2" height="6.2" fill="#2e6d8e"/>
<rect x="961.8" y="422.9" width="6.2" height="6.2" fill="#2f6b8e"/>
<rect x="967.8" y="422.9" width="6.2" height="6.2" fill="#30698e"/>
<rect x="973.8" y="422.9" width="6.2" height="6.2" fill="#31678d"/>
<rect x="979.8" y="422.9" width="6.2" height="6.2" fill="#32668d"/>
<rect x="985.8" y="422.9" width="6.2" height="6.2" fill="#33648d"/>
<rect x="991.8" y="422.9" width="6.2" height="6.2" fill="#33628d"/>
<rect x="997.8" y="422.9" width="6.2" height="6.2" fill="#34618d"/>
<rect x="1003.8" y="422.9" width="6.2" height="6.2" fill="#355f8d"/>
<rect x="1009.8" y="422.9" width="6.2" height="6.2" fill="#355e8d"/>
<rect x="1015.8" y="422.9" width="6.2" height="6.2" fill="#365c8c"/>
<rect x="1021.8" y="422.9" width="6.2" height="6.2" fill="#375b8c"/>
<rect x="805.8" y="428.9" width="6.2" height="6.2" fill="#45307c"/>
<rect x="811.8" y="428.9" width="6.2" height="6.2" fill="#31678d"/>
<rect x="817.8" y="428.9" width="6.2" height="6.2" fill="#21938c"/>
<rect x="823.8" y="428.9" width="6.2" height="6.2" fill="#3bb976"/>
<rect x="829.8" y="428.9" width="6.2" height="6.2" fill="#8dd545"/>
<rect x="835.8" y="428.9" width="6.2" height="6.2" fill="#33093f"/>
<rect x="841.8" y="428.9" width="6.2" height="6.2" fill="#a6da35"/>
<rect x="847.8" y="428.9" width="6.2" height="6.2" fill="#73cf55"/>
<rect x="853.8" y="428.9" width="6.2" height="6.2" fill="#57c566"/>
<rect x="859.8" y="428.9" width="6.2" height="6.2" fill="#42bd72"/>
<rect x="865.8" y="428.9" width="6.2" height="6.2" fill="#37b678"/>
<rect x="871.8" y="428.9" width="6.2" height="6.2" fill="#2daf7e"/>
<rect x="877.8" y="428.9" width="6.2" height="6.2" fill="#25aa83"/>
<rect x="883.8" y="428.9" width="6.2" height="6.2" fill="#22a485"/>
<rect x="889.8" y="428.9" width="6.2" height="6.2" fill="#22a087"/>
<rect x="895.8" y="428.9" width="6.2" height="6.2" fill="#219b89"/>
<rect x="901.8" y="428.9" width="6.2" height="6.2" fill="#21978a"/>
<rect x="907.8" y="428.9" width="6.2" height="6.2" fill="#21938b"/>
<rect x="913.8" y="428.9" width="6.2" height="6.2" fill="#218f8c"/>
<rect x="919.8" y="428.9" width="6.2" height="6.2" fill="#228c8d"/>
<rect x="925.8" y="428.9" width="6.2" height="6.2" fill="#23898d"/>
<rect x="931.8" y="428.9" width="6.2" height="6.2" fill="#25868d"/>
<rect x="937.8" y="428.9" width="6.2" height="6.2" fill="#26838d"/>
<rect x="943.8" y="428.9" width="6.2" height="6.2" fill="#27808e"/>
<rect x="949.8" y="428.9" width="6.2" height="6.2" fill="#287d8e"/>
<rect x="955.8" y="428.9" width="6.2" height="6.2" fill="#297b8e"/>
<rect x="961.8" y="428.9" width="6.2" height="6.2" fill="#2a798e"/>
<rect x="967.8" y="428.9" width="6.2" height="6.2" fill="#2b768e"/>
<rect x="973.8" y="428.9" width="6.2" height="6.2" fill="#2b748e"/>
<rect x="979.8" y="428.9" width="6.2" height="6.2" fill="#2c728e"/>
<rect x="985.8" y="428.9" width="6.2" height="6.2" fill="#2d708e"/>
<rect x="991.8" y="428.9" width="6.2" height="6.2" fill="#2e6e8e"/>
<rect x="997.8" y="428.9" width="6.2" height="6.2" fill="#2f6c8e"/>
<rect x="1003.8" y="428.9" width="6.2" height="6.2" fill="#306b8e"/>
<rect x="1009.8" y="428.9" width="6.2" height="6.2" fill="#30698e"/>
<rect x="1015.8" y="428.9" width="6.2" height="6.2" fill="#31678d"/>
<rect x="1021.8" y="428.9" width="6.2" height="6.2" fill="#32668d"/>
<rect x="805.8" y="434.9" width="6.2" height="6.2" fill="#462b79"/>
<rect x="811.8" y="434.9" width="6.2" height="6.2" fill="#355f8d"/>
<rect x="817.8" y="434.9" width="6.2" height="6.2" fill="#24878d"/>
<rect x="823.8" y="434.9" width="6.2" height="6.2" fill="#24a983"/>
<rect x="829.8" y="434.9" width="6.2" height="6.2" fill="#59c664"/>
<rect x="835.8" y="434.9" width="6.2" height="6.2" fill="#a6da35"/>
<rect x="841.8" y="434.9" width="6.2" height="6.2" fill="#33093f"/>
<rect x="847.8" y="434.9" width="6.2" height="6.2" fill="#b8de2a"/>
<rect x="853.8" y="434.9" width="6.2" height="6.2" fill="#8bd546"/>
<rect x="859.8" y="434.9" width="6.2" height="6.2" fill="#6dcd58"/>
<rect x="865.8" y="434.9" width="6.2" height="6.2" fill="#59c664"/>
<rect x="871.8" y="434.9" width="6.2" height="6.2" fill="#47c06e"/>
<rect x="877.8" y="434.9" width="6.2" height="6.2" fill="#3dba75"/>
<rect x="883.8" y="434.9" width="6.2" height="6.2" fill="#34b47a"/>
<rect x="889.8" y="434.9" width="6.2" height="6.2" fill="#2caf7e"/>
<rect x="895.8" y="434.9" width="6.2" height="6.2" fill="#25aa82"/>
<rect x="901.8" y="434.9" width="6.2" height="6.2" fill="#22a585"/>
<rect x="907.8" y="434.9" width="6.2" height="6.2" fill="#22a187"/>
<rect x="913.8" y="434.9" width="6.2" height="6.2" fill="#219d88"/>
<rect x="919.8" y="434.9" width="6.2" height="6.2" fill="#219989"/>
<rect x="925.8" y="434.9" width="6.2" height="6.2" fill="#21968b"/>
<rect x="931.8" y="434.9" width="6.2" height="6.2" fill="#21928c"/>
<rect x="937.8" y="434.9" width="6.2" height="6.2" fill="#218f8d"/>
<rect x="943.8" y="434.9" width="6.2" height="6.2" fill="#228c8d"/>
<rect x="949.8" y="434.9" width="6.2" height="6.2" fill="#23898d"/>
<rect x="955.8" y="434.9" width="6.2" height="6.2" fill="#24868d"/>
<rect x="961.8" y="434.9" width="6.2" height="6.2" fill="#25848d"/>
<rect x="967.8" y="434.9" width="6.2" height="6.2" fill="#26818e"/>
<rect x="973.8" y="434.9" width="6.2" height="6.2" fill="#277f8e"/>
<rect x="979.8" y="434.9" width="6.2" height="6.2" fill="#287d8e"/>
<rect x="985.8" y="434.9" width="6.2" height="6.2" fill="#297b8e"/>
<rect x="991.8" y="434.9" width="6.2" height="6.2" fill="#2a798e"/>
<rect x="997.8" y="434.9" width="6.2" height="6.2" fill="#2a778e"/>
<rect x="1003.8" y="434.9" width="6.2" height="6.2" fill="#2b758e"/>
<rect x="1009.8" y="434.9" width="6.2" height="6.2" fill="#2c738e"/>
<rect x="1015.8" y="434.9" width="6.2" height="6.2" fill="#2d718e"/>
<rect x="1021.8" y="434.9" width="6.2" height="6.2" fill="#2e6f8e"/>
<rect x="805.8" y="440.9" width="6.2" height="6.2" fill="#472877"/>
<rect x="811.8" y="440.9" width="6.2" height="6.2" fill="#37598c"/>
<rect x="817.8" y="440.9" width="6.2" height="6.2" fill="#277f8e"/>
<rect x="823.8" y="440.9" width="6.2" height="6.2" fill="#229f87"/>
<rect x="829.8" y="440.9" width="6.2" height="6.2" fill="#3dba75"/>
<rect x="835.8" y="440.9" width="6.2" height="6.2" fill="#73cf55"/>
<rect x="841.8" y="440.9" width="6.2" height="6.2" fill="#b8de2a"/>
<rect x="847.8" y="440.9" width="6.2" height="6.2" fill="#33093f"/>
<rect x="853.8" y="440.9" width="6.2" height="6.2" fill="#c5e026"/>
<rect x="859.8" y="440.9" width="6.2" height="6.2" fill="#9ed93a"/>
<rect x="865.8" y="440.9" width="6.2" height="6.2" fill="#80d34d"/>
<rect x="871.8" y="440.9" width="6.2" height="6.2" fill="#6bcc5a"/>
<rect x="877.8" y="440.9" width="6.2" height="6.2" fill="#5ac763"/>
<rect x="883.8" y="440.9" width="6.2" height="6.2" fill="#4bc16c"/>
<rect x="889.8" y="440.9" width="6.2" height="6.2" fill="#40bc73"/>
<rect x="895.8" y="440.9" width="6.2" height="6.2" fill="#38b777"/>
<rect x="901.8" y="440.9" width="6.2" height="6.2" fill="#31b27c"/>
<rect x="907.8" y="440.9" width="6.2" height="6.2" fill="#2aad80"/>
<rect x="913.8" y="440.9" width="6.2" height="6.2" fill="#24a983"/>
<rect x="919.8" y="440.9" width="6.2" height="6.2" fill="#22a585"/>
<rect x="925.8" y="440.9" width="6.2" height="6.2" fill="#22a186"/>
<rect x="931.8" y="440.9" width="6.2" height="6.2" fill="#229d88"/>
<rect x="937.8" y="440.9" width="6.2" height="6.2" fill="#219a89"/>
<rect x="943.8" y="440.9" width="6.2" height="6.2" fill="#21978a"/>
<rect x="949.8" y="440.9" width="6.2" height="6.2" fill="#21948b"/>
<rect x="955.8" y="440.9" width="6.2" height="6.2" fill="#21918c"/>
<rect x="961.8" y="440.9" width="6.2" height="6.2" fill="#218e8d"/>
<rect x="967.8" y="440.9" width="6.2" height="6.2" fill="#228b8d"/>
<rect x="973.8" y="440.9" width="6.2" height="6.2" fill="#23898d"/>
<rect x="979.8" y="440.9" width="6.2" height="6.2" fill="#24868d"/>
<rect x="985.8" y="440.9" width="6.2" height="6.2" fill="#25848d"/>
<rect x="991.8" y="440.9" width="6.2" height="6.2" fill="#26828e"/>
<rect x="997.8" y="440.9" width="6.2" height="6.2" fill="#27808e"/>
<rect x="1003.8" y="440.9" width="6.2" height="6.2" fill="#287e8e"/>
<rect x="1009.8" y="440.9" width="6.2" height="6.2" fill="#287c8e"/>
<rect x="1015.8" y="440.9" width="6.2" height="6.2" fill="#297a8e"/>
<rect x="1021.8" y="440.9" width="6.2" height="6.2" fill="#2a788e"/>
<rect x="805.8" y="446.9" width="6.2" height="6.2" fill="#482676"/>
<rect x="811.8" y="446.9" width="6.2" height="6.2" fill="#39558b"/>
<rect x="817.8" y="446.9" width="6.2" height="6.2" fill="#29798e"/>
<rect x="823.8" y="446.9" width="6.2" height="6.2" fill="#21978a"/>
<rect x="829.8" y="446.9" width="6.2" height="6.2" fill="#2eb07d"/>
<rect x="835.8" y="446.9" width="6.2" height="6.2" fill="#57c566"/>
<rect x="841.8" y="446.9" width="6.2" height="6.2" fill="#8bd546"/>
<rect x="847.8" y="446.9" width="6.2" height="6.2" fill="#c5e026"/>
<rect x="853.8" y="446.9" width="6.2" height="6.2" fill="#33093f"/>
<rect x="859.8" y="446.9" width="6.2" height="6.2" fill="#cfe126"/>
<rect x="865.8" y="446.9" width="6.2" height="6.2" fill="#addc30"/>
<rect x="871.8" y="446.9" width="6.2" height="6.2" fill="#91d642"/>
<rect x="877.8" y="446.9" width="6.2" height="6.2" fill="#7ad151"/>
<rect x="883.8" y="446.9" width="6.2" height="6.2" fill="#69cc5b"/>
<rect x="889.8" y="446.9" width="6.2" height="6.2" fill="#5ac763"/>
<rect x="895.8" y="446.9" width="6.2" height="6.2" fill="#4dc26b"/>
<rect x="901.8" y="446.9" width="6.2" height="6.2" fill="#42bd72"/>
<rect x="907.8" y="446.9" width="6.2" height="6.2" fill="#3ab876"/>
<rect x="913.8" y="446.9" width="6.2" height="6.2" fill="#34b47a"/>
<rect x="919.8" y="446.9" width="6.2" height="6.2" fill="#2daf7e"/>
<rect x="925.8" y="446.9" width="6.2" height="6.2" fill="#27ab81"/>
<rect x="931.8" y="446.9" width="6.2" height="6.2" fill="#22a784"/>
<rect x="937.8" y="446.9" width="6.2" height="6.2" fill="#22a485"/>
<rect x="943.8" y="446.9" width="6.2" height="6.2" fill="#22a087"/>
<rect x="949.8" y="446.9" width="6.2" height="6.2" fill="#229d88"/>
<rect x="955.8" y="446.9" width="6.2" height="6.2" fill="#219a89"/>
<rect x="961.8" y="446.9" width="6.2" height="6.2" fill="#21978a"/>
<rect x="967.8" y="446.9" width="6.2" height="6.2" fill="#21948b"/>
<rect x="973.8" y="446.9" width="6.2" height="6.2" fill="#21928c"/>
<rect x="979.8" y="446.9" width="6.2" height="6.2" fill="#218f8d"/>
<rect x="985.8" y="446.9" width="6.2" height="6.2" fill="#228d8d"/>
<rect x="991.8" y="446.9" width="6.2" height="6.2" fill="#238a8d"/>
<rect x="997.8" y="446.9" width="6.2" height="6.2" fill="#24888d"/>
<rect x="1003.8" y="446.9" width="6.2" height="6.2" fill="#25868d"/>
<rect x="1009.8" y="446.9" width="6.2" height="6.2" fill="#25838d"/>
<rect x="1015.8" y="446.9" width="6.2" height="6.2" fill="#26818e"/>
<rect x="1021.8" y="446.9" width="6.2" height="6.2" fill="#27808e"/>
<rect x="805.8" y="452.9" width="6.2" height="6.2" fill="#482475"/>
<rect x="811.8" y="452.9" width="6.2" height="6.2" fill="#3b518a"/>
<rect x="817.8" y="452.9" width="6.2" height="6.2" fill="#2c748e"/>
<rect x="823.8" y="452.9" width="6.2" height="6.2" fill="#21908c"/>
<rect x="829.8" y="452.9" width="6.2" height="6.2" fill="#23a884"/>
<rect x="835.8" y="452.9" width="6.2" height="6.2" fill="#42bd72"/>
<rect x="841.8" y="452.9" width="6.2" height="6.2" fill="#6dcd58"/>
<rect x="847.8" y="452.9" width="6.2" height="6.2" fill="#9ed93a"/>
<rect x="853.8" y="452.9" width="6.2" height="6.2" fill="#cfe126"/>
<rect x="859.8" y="452.9" width="6.2" height="6.2" fill="#33093f"/>
<rect x="865.8" y="452.9" width="6.2" height="6.2" fill="#d7e226"/>
<rect x="871.8" y="452.9" width="6.2" height="6.2" fill="#b8de29"/>
<rect x="877.8" y="452.9" width="6.2" height="6.2" fill="#9ed93a"/>
<rect x="883.8" y="452.9" width="6.2" height="6.2" fill="#88d448"/>
<rect x="889.8" y="452.9" width="6.2" height="6.2" fill="#75d054"/>
<rect x="895.8" y="452.9" width="6.2" height="6.2" fill="#66cb5c"/>
<rect x="901.8" y="452.9" width="6.2" height="6.2" fill="#59c664"/>
<rect x="907.8" y="452.9" width="6.2" height="6.2" fill="#4dc26b"/>
<rect x="913.8" y="452.9" width="6.2" height="6.2" fill="#42be71"/>
<rect x="919.8" y="452.9" width="6.2" height="6.2" fill="#3bb975"/>
<rect x="925.8" y="452.9" width="6.2" height="6.2" fill="#35b579"/>
<rect x="931.8" y="452.9" width="6.2" height="6.2" fill="#2fb17d"/>
<rect x="937.8" y="452.9" width="6.2" height="6.2" fill="#29ad80"/>
<rect x="943.8" y="452.9" width="6.2" height="6.2" fill="#24a983"/>
<rect x="949.8" y="452.9" width="6.2" height="6.2" fill="#22a685"/>
<rect x="955.8" y="452.9" width="6.2" height="6.2" fill="#22a286"/>
<rect x="961.8" y="452.9" width="6.2" height="6.2" fill="#229f87"/>
<rect x="967.8" y="452.9" width="6.2" height="6.2" fill="#219c88"/>
<rect x="973.8" y="452.9" width="6.2" height="6.2" fill="#219989"/>
<rect x="979.8" y="452.9" width="6.2" height="6.2" fill="#21978a"/>
<rect x="985.8" y="452.9" width="6.2" height="6.2" fill="#21948b"/>
<rect x="991.8" y="452.9" width="6.2" height="6.2" fill="#21928c"/>
<rect x="997.8" y="452.9" width="6.2" height="6.2" fill="#218f8c"/>
<rect x="1003.8" y="452.9" width="6.2" height="6.2" fill="#228d8d"/>
<rect x="1009.8" y="452.9" width="6.2" height="6.2" fill="#238b8d"/>
<rect x="1015.8" y="452.9" width="6.2" height="6.2" fill="#24898d"/>
<rect x="1021.8" y="452.9" width="6.2" height="6.2" fill="#24868d"/>
<rect x="805.8" y="458.9" width="6.2" height="6.2" fill="#482273"/>
<rect x="811.8" y="458.9" width="6.2" height="6.2" fill="#3c4e89"/>
<rect x="817.8" y="458.9" width="6.2" height="6.2" fill="#2e6f8e"/>
<rect x="823.8" y="458.9" width="6.2" height="6.2" fill="#238b8d"/>
<rect x="829.8" y="458.9" width="6.2" height="6.2" fill="#22a286"/>
<rect x="835.8" y="458.9" width="6.2" height="6.2" fill="#37b678"/>
<rect x="841.8" y="458.9" width="6.2" height="6.2" fill="#59c664"/>
<rect x="847.8" y="458.9" width="6.2" height="6.2" fill="#80d34d"/>
<rect x="853.8" y="458.9" width="6.2" height="6.2" fill="#addc30"/>
<rect x="859.8" y="458.9" width="6.2" height="6.2" fill="#d7e226"/>
<rect x="865.8" y="458.9" width="6.2" height="6.2" fill="#33093f"/>
<rect x="871.8" y="458.9" width="6.2" height="6.2" fill="#dce325"/>
<rect x="877.8" y="458.9" width="6.2" height="6.2" fill="#c1df26"/>
<rect x="883.8" y="458.9" width="6.2" height="6.2" fill="#a8db33"/>
<rect x="889.8" y="458.9" width="6.2" height="6.2" fill="#93d641"/>
<rect x="895.8" y="458.9" width="6.2" height="6.2" fill="#7fd34d"/>
<rect x="901.8" y="458.9" width="6.2" height="6.2" fill="#70ce57"/>
<rect x="907.8" y="458.9" width="6.2" height="6.2" fill="#63ca5e"/>
<rect x="913.8" y="458.9" width="6.2" height="6.2" fill="#57c565"/>
<rect x="919.8" y="458.9" width="6.2" height="6.2" fill="#4bc16c"/>
<rect x="925.8" y="458.9" width="6.2" height="6.2" fill="#42bd72"/>
<rect x="931.8" y="458.9" width="6.2" height="6.2" fill="#3cb975"/>
<rect x="937.8" y="458.9" width="6.2" height="6.2" fill="#36b579"/>
<rect x="943.8" y="458.9" width="6.2" height="6.2" fill="#30b17c"/>
<rect x="949.8" y="458.9" width="6.2" height="6.2" fill="#2bae7f"/>
<rect x="955.8" y="458.9" width="6.2" height="6.2" fill="#26aa82"/>
<rect x="961.8" y="458.9" width="6.2" height="6.2" fill="#22a784"/>
<rect x="967.8" y="458.9" width="6.2" height="6.2" fill="#22a485"/>
<rect x="973.8" y="458.9" width="6.2" height="6.2" fill="#22a187"/>
<rect x="979.8" y="458.9" width="6.2" height="6.2" fill="#229e88"/>
<rect x="985.8" y="458.9" width="6.2" height="6.2" fill="#219b89"/>
<rect x="991.8" y="458.9" width="6.2" height="6.2" fill="#21998a"/>
<rect x="997.8" y="458.9" width="6.2" height="6.2" fill="#21968a"/>
<rect x="1003.8" y="458.9" width="6.2" height="6.2" fill="#21948b"/>
<rect x="1009.8" y="458.9" width="6.2" height="6.2" fill="#21918c"/>
<rect x="1015.8" y="458.9" width="6.2" height="6.2" fill="#218f8d"/>
<rect x="1021.8" y="458.9" width="6.2" height="6.2" fill="#228d8d"/>
<rect x="805.8" y="464.9" width="6.2" height="6.2" fill="#482172"/>
<rect x="811.8" y="464.9" width="6.2" height="6.2" fill="#3d4c89"/>
<rect x="817.8" y="464.9" width="6.2" height="6.2" fill="#2f6c8e"/>
<rect x="823.8" y="464.9" width="6.2" height="6.2" fill="#25868d"/>
<rect x="829.8" y="464.9" width="6.2" height="6.2" fill="#219c88"/>
<rect x="835.8" y="464.9" width="6.2" height="6.2" fill="#2daf7e"/>
<rect x="841.8" y="464.9" width="6.2" height="6.2" fill="#47c06e"/>
<rect x="847.8" y="464.9" width="6.2" height="6.2" fill="#6bcc5a"/>
<rect x="853.8" y="464.9" width="6.2" height="6.2" fill="#91d642"/>
<rect x="859.8" y="464.9" width="6.2" height="6.2" fill="#b8de29"/>
<rect x="865.8" y="464.9" width="6.2" height="6.2" fill="#dce325"/>
<rect x="871.8" y="464.9" width="6.2" height="6.2" fill="#33093f"/>
<rect x="877.8" y="464.9" width="6.2" height="6.2" fill="#e1e325"/>
<rect x="883.8" y="464.9" width="6.2" height="6.2" fill="#c7e026"/>
<rect x="889.8" y="464.9" width="6.2" height="6.2" fill="#b1dc2e"/>
<rect x="895.8" y="464.9" width="6.2" height="6.2" fill="#9cd83b"/>
<rect x="901.8" y="464.9" width="6.2" height="6.2" fill="#89d447"/>
<rect x="907.8" y="464.9" width="6.2" height="6.2" fill="#78d152"/>
<rect x="913.8" y="464.9" width="6.2" height="6.2" fill="#6bcc5a"/>
<rect x="919.8" y="464.9" width="6.2" height="6.2" fill="#5fc861"/>
<rect x="925.8" y="464.9" width="6.2" height="6.2" fill="#54c467"/>
<rect x="931.8" y="464.9" width="6.2" height="6.2" fill="#49c16d"/>
<rect x="937.8" y="464.9" width="6.2" height="6.2" fill="#41bd72"/>
<rect x="943.8" y="464.9" width="6.2" height="6.2" fill="#3bb976"/>
<rect x="949.8" y="464.9" width="6.2" height="6.2" fill="#36b579"/>
<rect x="955.8" y="464.9" width="6.2" height="6.2" fill="#30b17c"/>
<rect x="961.8" y="464.9" width="6.2" height="6.2" fill="#2bae7f"/>
<rect x="967.8" y="464.9" width="6.2" height="6.2" fill="#27ab82"/>
<rect x="973.8" y="464.9" width="6.2" height="6.2" fill="#22a884"/>
<rect x="979.8" y="464.9" width="6.2" height="6.2" fill="#22a585"/>
<rect x="985.8" y="464.9" width="6.2" height="6.2" fill="#22a286"/>
<rect x="991.8" y="464.9" width="6.2" height="6.2" fill="#229f87"/>
<rect x="997.8" y="464.9" width="6.2" height="6.2" fill="#219c88"/>
<rect x="1003.8" y="464.9" width="6.2" height="6.2" fill="#219a89"/>
<rect x="1009.8" y="464.9" width="6.2" height="6.2" fill="#21988a"/>
<rect x="1015.8" y="464.9" width="6.2" height="6.2" fill="#21958b"/>
<rect x="1021.8" y="464.9" width="6.2" height="6.2" fill="#21938c"/>
<rect x="805.8" y="470.9" width="6.2" height="6.2" fill="#482071"/>
<rect x="811.8" y="470.9" width="6.2" height="6.2" fill="#3e4988"/>
<rect x="817.8" y="470.9" width="6.2" height="6.2" fill="#31688e"/>
<rect x="823.8" y="470.9" width="6.2" height="6.2" fill="#26828e"/>
<rect x="829.8" y="470.9" width="6.2" height="6.2" fill="#21978a"/>
<rect x="835.8" y="470.9" width="6.2" height="6.2" fill="#25aa83"/>
<rect x="841.8" y="470.9" width="6.2" height="6.2" fill="#3dba75"/>
<rect x="847.8" y="470.9" width="6.2" height="6.2" fill="#5ac763"/>
<rect x="853.8" y="470.9" width="6.2" height="6.2" fill="#7ad151"/>
<rect x="859.8" y="470.9" width="6.2" height="6.2" fill="#9ed93a"/>
<rect x="865.8" y="470.9" width="6.2" height="6.2" fill="#c1df26"/>
<rect x="871.8" y="470.9" width="6.2" height="6.2" fill="#e1e325"/>
<rect x="877.8" y="470.9" width="6.2" height="6.2" fill="#33093f"/>
<rect x="883.8" y="470.9" width="6.2" height="6.2" fill="#e4e425"/>
<rect x="889.8" y="470.9" width="6.2" height="6.2" fill="#cce126"/>
<rect x="895.8" y="470.9" width="6.2" height="6.2" fill="#b7de2a"/>
<rect x="901.8" y="470.9" width="6.2" height="6.2" fill="#a3da37"/>
<rect x="907.8" y="470.9" width="6.2" height="6.2" fill="#91d642"/>
<rect x="913.8" y="470.9" width="6.2" height="6.2" fill="#80d34d"/>
<rect x="919.8" y="470.9" width="6.2" height="6.2" fill="#72cf56"/>
<rect x="925.8" y="470.9" width="6.2" height="6.2" fill="#66cb5c"/>
<rect x="931.8" y="470.9" width="6.2" height="6.2" fill="#5bc763"/>
<rect x="937.8" y="470.9" width="6.2" height="6.2" fill="#51c369"/>
<rect x="943.8" y="470.9" width="6.2" height="6.2" fill="#47c06f"/>
<rect x="949.8" y="470.9" width="6.2" height="6.2" fill="#40bc73"/>
<rect x="955.8" y="470.9" width="6.2" height="6.2" fill="#3ab876"/>
<rect x="961.8" y="470.9" width="6.2" height="6.2" fill="#35b579"/>
<rect x="967.8" y="470.9" width="6.2" height="6.2" fill="#30b17c"/>
<rect x="973.8" y="470.9" width="6.2" height="6.2" fill="#2bae7f"/>
<rect x="979.8" y="470.9" width="6.2" height="6.2" fill="#27ab81"/>
<rect x="985.8" y="470.9" width="6.2" height="6.2" fill="#23a884"/>
<rect x="991.8" y="470.9" width="6.2" height="6.2" fill="#22a585"/>
<rect x="997.8" y="470.9" width="6.2" height="6.2" fill="#22a386"/>
<rect x="1003.8" y="470.9" width="6.2" height="6.2" fill="#22a087"/>
<rect x="1009.8" y="470.9" width="6.2" height="6.2" fill="#229d88"/>
<rect x="1015.8" y="470.9" width="6.2" height="6.2" fill="#219b89"/>
<rect x="1021.8" y="470.9" width="6.2" height="6.2" fill="#219989"/>
<rect x="805.8" y="476.9" width="6.2" height="6.2" fill="#471e6f"/>
<rect x="811.8" y="476.9" width="6.2" height="6.2" fill="#3f4788"/>
<rect x="817.8" y="476.9" width="6.2" height="6.2" fill="#32658d"/>
<rect x="823.8" y="476.9" width="6.2" height="6.2" fill="#287e8e"/>
<rect x="829.8" y="476.9" width="6.2" height="6.2" fill="#21938c"/>
<rect x="835.8" y="476.9" width="6.2" height="6.2" fill="#22a485"/>
<rect x="841.8" y="476.9" width="6.2" height="6.2" fill="#34b47a"/>
<rect x="847.8" y="476.9" width="6.2" height="6.2" fill="#4bc16c"/>
<rect x="853.8" y="476.9" width="6.2" height="6.2" fill="#69cc5b"/>
<rect x="859.8" y="476.9" width="6.2" height="6.2" fill="#88d448"/>
<rect x="865.8" y="476.9" width="6.2" height="6.2" fill="#a8db33"/>
<rect x="871.8" y="476.9" width="6.2" height="6.2" fill="#c7e026"/>
<rect x="877.8" y="476.9" width="6.2" height="6.2" fill="#e4e425"/>
<rect x="883.8" y="476.9" width="6.2" height="6.2" fill="#33093f"/>
<rect x="889.8" y="476.9" width="6.2" height="6.2" fill="#e7e425"/>
<rect x="895.8" y="476.9" width="6.2" height="6.2" fill="#d1e126"/>
<rect x="901.8" y="476.9" width="6.2" height="6.2" fill="#bddf26"/>
<rect x="907.8" y="476.9" width="6.2" height="6.2" fill="#a9db33"/>
<rect x="913.8" y="476.9" width="6.2" height="6.2" fill="#98d73e"/>
<rect x="919.8" y="476.9" width="6.2" height="6.2" fill="#87d449"/>
<rect x="925.8" y="476.9" width="6.2" height="6.2" fill="#78d152"/>
<rect x="931.8" y="476.9" width="6.2" height="6.2" fill="#6dcd59"/>
<rect x="937.8" y="476.9" width="6.2" height="6.2" fill="#62c95f"/>
<rect x="943.8" y="476.9" width="6.2" height="6.2" fill="#57c665"/>
<rect x="949.8" y="476.9" width="6.2" height="6.2" fill="#4ec26b"/>
<rect x="955.8" y="476.9" width="6.2" height="6.2" fill="#44bf70"/>
<rect x="961.8" y="476.9" width="6.2" height="6.2" fill="#3fbb73"/>
<rect x="967.8" y="476.9" width="6.2" height="6.2" fill="#3ab876"/>
<rect x="973.8" y="476.9" width="6.2" height="6.2" fill="#35b479"/>
<rect x="979.8" y="476.9" width="6.2" height="6.2" fill="#30b17c"/>
<rect x="985.8" y="476.9" width="6.2" height="6.2" fill="#2bae7f"/>
<rect x="991.8" y="476.9" width="6.2" height="6.2" fill="#27ab81"/>
<rect x="997.8" y="476.9" width="6.2" height="6.2" fill="#23a884"/>
<rect x="1003.8" y="476.9" width="6.2" height="6.2" fill="#22a685"/>
<rect x="1009.8" y="476.9" width="6.2" height="6.2" fill="#22a386"/>
<rect x="1015.8" y="476.9" width="6.2" height="6.2" fill="#22a087"/>
<rect x="1021.8" y="476.9" width="6.2" height="6.2" fill="#229e88"/>
<rect x="805.8" y="482.9" width="6.2" height="6.2" fill="#471d6e"/>
<rect x="811.8" y="482.9" width="6.2" height="6.2" fill="#404587"/>
<rect x="817.8" y="482.9" width="6.2" height="6.2" fill="#33628d"/>
<rect x="823.8" y="482.9" width="6.2" height="6.2" fill="#297a8e"/>
<rect x="829.8" y="482.9" width="6.2" height="6.2" fill="#218e8d"/>
<rect x="835.8" y="482.9" width="6.2" height="6.2" fill="#22a087"/>
<rect x="841.8" y="482.9" width="6.2" height="6.2" fill="#2caf7e"/>
<rect x="847.8" y="482.9" width="6.2" height="6.2" fill="#40bc73"/>
<rect x="853.8" y="482.9" width="6.2" height="6.2" fill="#5ac763"/>
<rect x="859.8" y="482.9" width="6.2" height="6.2" fill="#75d054"/>
<rect x="865.8" y="482.9" width="6.2" height="6.2" fill="#93d641"/>
<rect x="871.8" y="482.9" width="6.2" height="6.2" fill="#b1dc2e"/>
<rect x="877.8" y="482.9" width="6.2" height="6.2" fill="#cce126"/>
<rect x="883.8" y="482.9" width="6.2" height="6.2" fill="#e7e425"/>
<rect x="889.8" y="482.9" width="6.2" height="6.2" fill="#33093f"/>
<rect x="895.8" y="482.9" width="6.2" height="6.2" fill="#e9e425"/>
<rect x="901.8" y="482.9" width="6.2" height="6.2" fill="#d4e226"/>
<rect x="907.8" y="482.9" width="6.2" height="6.2" fill="#c1df26"/>
<rect x="913.8" y="482.9" width="6.2" height="6.2" fill="#aedc2f"/>
<rect x="919.8" y="482.9" width="6.2" height="6.2" fill="#9dd83a"/>
<rect x="925.8" y="482.9" width="6.2" height="6.2" fill="#8dd545"/>
<rect x="931.8" y="482.9" width="6.2" height="6.2" fill="#7ed24e"/>
<rect x="937.8" y="482.9" width="6.2" height="6.2" fill="#72cf56"/>
<rect x="943.8" y="482.9" width="6.2" height="6.2" fill="#67cb5c"/>
<rect x="949.8" y="482.9" width="6.2" height="6.2" fill="#5dc862"/>
<rect x="955.8" y="482.9" width="6.2" height="6.2" fill="#53c467"/>
<rect x="961.8" y="482.9" width="6.2" height="6.2" fill="#4ac16d"/>
<rect x="967.8" y="482.9" width="6.2" height="6.2" fill="#43be71"/>
<rect x="973.8" y="482.9" width="6.2" height="6.2" fill="#3dba74"/>
<rect x="979.8" y="482.9" width="6.2" height="6.2" fill="#38b777"/>
<rect x="985.8" y="482.9" width="6.2" height="6.2" fill="#34b47a"/>
<rect x="991.8" y="482.9" width="6.2" height="6.2" fill="#2fb17c"/>
<rect x="997.8" y="482.9" width="6.2" height="6.2" fill="#2bae7f"/>
<rect x="1003.8" y="482.9" width="6.2" height="6.2" fill="#27ab81"/>
<rect x="1009.8" y="482.9" width="6.2" height="6.2" fill="#23a884"/>
<rect x="1015.8" y="482.9" width="6.2" height="6.2" fill="#22a685"/>
<rect x="1021.8" y="482.9" width="6.2" height="6.2" fill="#22a386"/>
<rect x="805.8" y="488.9" width="6.2" height="6.2" fill="#471c6e"/>
<rect x="811.8" y="488.9" width="6.2" height="6.2" fill="#414387"/>
<rect x="817.8" y="488.9" width="6.2" height="6.2" fill="#345f8d"/>
<rect x="823.8" y="488.9" width="6.2" height="6.2" fill="#2a778e"/>
<rect x="829.8" y="488.9" width="6.2" height="6.2" fill="#238a8d"/>
<rect x="835.8" y="488.9" width="6.2" height="6.2" fill="#219b89"/>
<rect x="841.8" y="488.9" width="6.2" height="6.2" fill="#25aa82"/>
<rect x="847.8" y="488.9" width="6.2" height="6.2" fill="#38b777"/>
<rect x="853.8" y="488.9" width="6.2" height="6.2" fill="#4dc26b"/>
<rect x="859.8" y="488.9" width="6.2" height="6.2" fill="#66cb5c"/>
<rect x="865.8" y="488.9" width="6.2" height="6.2" fill="#7fd34d"/>
<rect x="871.8" y="488.9" width="6.2" height="6.2" fill="#9cd83b"/>
<rect x="877.8" y="488.9" width="6.2" height="6.2" fill="#b7de2a"/>
<rect x="883.8" y="488.9" width="6.2" height="6.2" fill="#d1e126"/>
<rect x="889.8" y="488.9" width="6.2" height="6.2" fill="#e9e425"/>
<rect x="895.8" y="488.9" width="6.2" height="6.2" fill="#33093f"/>
<rect x="901.8" y="488.9" width="6.2" height="6.2" fill="#ebe525"/>
<rect x="907.8" y="488.9" width="6.2" height="6.2" fill="#d7e226"/>
<rect x="913.8" y="488.9" width="6.2" height="6.2" fill="#c4e026"/>
<rect x="919.8" y="488.9" width="6.2" height="6.2" fill="#b3dd2d"/>
<rect x="925.8" y="488.9" width="6.2" height="6.2" fill="#a2d937"/>
<rect x="931.8" y="488.9" width="6.2" height="6.2" fill="#92d641"/>
<rect x="937.8" y="488.9" width="6.2" height="6.2" fill="#84d34b"/>
<rect x="943.8" y="488.9" width="6.2" height="6.2" fill="#77d053"/>
<rect x="949.8" y="488.9" width="6.2" height="6.2" fill="#6ccd59"/>
<rect x="955.8" y="488.9" width="6.2" height="6.2" fill="#62c95f"/>
<rect x="961.8" y="488.9" width="6.2" height="6.2" fill="#59c664"/>
<rect x="967.8" y="488.9" width="6.2" height="6.2" fill="#50c36a"/>
<rect x="973.8" y="488.9" width="6.2" height="6.2" fill="#47c06f"/>
<rect x="979.8" y="488.9" width="6.2" height="6.2" fill="#41bd72"/>
<rect x="985.8" y="488.9" width="6.2" height="6.2" fill="#3cb975"/>
<rect x="991.8" y="488.9" width="6.2" height="6.2" fill="#37b678"/>
<rect x="997.8" y="488.9" width="6.2" height="6.2" fill="#33b37a"/>
<rect x="1003.8" y="488.9" width="6.2" height="6.2" fill="#2fb07d"/>
<rect x="1009.8" y="488.9" width="6.2" height="6.2" fill="#2bae7f"/>
<rect x="1015.8" y="488.9" width="6.2" height="6.2" fill="#27ab81"/>
<rect x="1021.8" y="488.9" width="6.2" height="6.2" fill="#23a884"/>
<rect x="805.8" y="494.9" width="6.2" height="6.2" fill="#471c6d"/>
<rect x="811.8" y="494.9" width="6.2" height="6.2" fill="#414186"/>
<rect x="817.8" y="494.9" width="6.2" height="6.2" fill="#365d8d"/>
<rect x="823.8" y="494.9" width="6.2" height="6.2" fill="#2c738e"/>
<rect x="829.8" y="494.9" width="6.2" height="6.2" fill="#24878d"/>
<rect x="835.8" y="494.9" width="6.2" height="6.2" fill="#21978a"/>
<rect x="841.8" y="494.9" width="6.2" height="6.2" fill="#22a585"/>
<rect x="847.8" y="494.9" width="6.2" height="6.2" fill="#31b27c"/>
<rect x="853.8" y="494.9" width="6.2" height="6.2" fill="#42bd72"/>
<rect x="859.8" y="494.9" width="6.2" height="6.2" fill="#59c664"/>
<rect x="865.8" y="494.9" width="6.2" height="6.2" fill="#70ce57"/>
<rect x="871.8" y="494.9" width="6.2" height="6.2" fill="#89d447"/>
<rect x="877.8" y="494.9" width="6.2" height="6.2" fill="#a3da37"/>
<rect x="883.8" y="494.9" width="6.2" height="6.2" fill="#bddf26"/>
<rect x="889.8" y="494.9" width="6.2" height="6.2" fill="#d4e226"/>
<rect x="895.8" y="494.9" width="6.2" height="6.2" fill="#ebe525"/>
<rect x="901.8" y="494.9" width="6.2" height="6.2" fill="#33093f"/>
<rect x="907.8" y="494.9" width="6.2" height="6.2" fill="#ede525"/>
<rect x="913.8" y="494.9" width="6.2" height="6.2" fill="#d9e226"/>
<rect x="919.8" y="494.9" width="6.2" height="6.2" fill="#c7e026"/>
<rect x="925.8" y="494.9" width="6.2" height="6.2" fill="#b7dd2a"/>
<rect x="931.8" y="494.9" width="6.2" height="6.2" fill="#a6da35"/>
<rect x="937.8" y="494.9" width="6.2" height="6.2" fill="#97d73e"/>
<rect x="943.8" y="494.9" width="6.2" height="6.2" fill="#89d448"/>
<rect x="949.8" y="494.9" width="6.2" height="6.2" fill="#7bd250"/>
<rect x="955.8" y="494.9" width="6.2" height="6.2" fill="#70ce57"/>
<rect x="961.8" y="494.9" width="6.2" height="6.2" fill="#67cb5c"/>
<rect x="967.8" y="494.9" width="6.2" height="6.2" fill="#5dc862"/>
<rect x="973.8" y="494.9" width="6.2" height="6.2" fill="#55c567"/>
<rect x="979.8" y="494.9" width="6.2" height="6.2" fill="#4cc26c"/>
<rect x="985.8" y="494.9" width="6.2" height="6.2" fill="#44bf70"/>
<rect x="991.8" y="494.9" width="6.2" height="6.2" fill="#3fbc73"/>
<rect x="997.8" y="494.9" width="6.2" height="6.2" fill="#3bb976"/>
<rect x="1003.8" y="494.9" width="6.2" height="6.2" fill="#36b678"/>
<rect x="1009.8" y="494.9" width="6.2" height="6.2" fill="#32b37b"/>
<rect x="1015.8" y="494.9" width="6.2" height="6.2" fill="#2eb07d"/>
<rect x="1021.8" y="494.9" width="6.2" height="6.2" fill="#2aad80"/>
<rect x="805.8" y="500.9" width="6.2" height="6.2" fill="#471b6c"/>
<rect x="811.8" y="500.9" width="6.2" height="6.2" fill="#423f84"/>
<rect x="817.8" y="500.9" width="6.2" height="6.2" fill="#375a8c"/>
<rect x="823.8" y="500.9" width="6.2" height="6.2" fill="#2d708e"/>
<rect x="829.8" y="500.9" width="6.2" height="6.2" fill="#26838d"/>
<rect x="835.8" y="500.9" width="6.2" height="6.2" fill="#21938b"/>
<rect x="841.8" y="500.9" width="6.2" height="6.2" fill="#22a187"/>
<rect x="847.8" y="500.9" width="6.2" height="6.2" fill="#2aad80"/>
<rect x="853.8" y="500.9" width="6.2" height="6.2" fill="#3ab876"/>
<rect x="859.8" y="500.9" width="6.2" height="6.2" fill="#4dc26b"/>
<rect x="865.8" y="500.9" width="6.2" height="6.2" fill="#63ca5e"/>
<rect x="871.8" y="500.9" width="6.2" height="6.2" fill="#78d152"/>
<rect x="877.8" y="500.9" width="6.2" height="6.2" fill="#91d642"/>
<rect x="883.8" y="500.9" width="6.2" height="6.2" fill="#a9db33"/>
<rect x="889.8" y="500.9" width="6.2" height="6.2" fill="#c1df26"/>
<rect x="895.8" y="500.9" width="6.2" height="6.2" fill="#d7e226"/>
<rect x="901.8" y="500.9" width="6.2" height="6.2" fill="#ede525"/>
<rect x="907.8" y="500.9" width="6.2" height="6.2" fill="#33093f"/>
<rect x="913.8" y="500.9" width="6.2" height="6.2" fill="#eee525"/>
<rect x="919.8" y="500.9" width="6.2" height="6.2" fill="#dbe325"/>
<rect x="925.8" y="500.9" width="6.2" height="6.2" fill="#cae026"/>
<rect x="931.8" y="500.9" width="6.2" height="6.2" fill="#bade28"/>
<rect x="937.8" y="500.9" width="6.2" height="6.2" fill="#aadb32"/>
<rect x="943.8" y="500.9" width="6.2" height="6.2" fill="#9bd83c"/>
<rect x="949.8" y="500.9" width="6.2" height="6.2" fill="#8dd545"/>
<rect x="955.8" y="500.9" width="6.2" height="6.2" fill="#80d34d"/>
<rect x="961.8" y="500.9" width="6.2" height="6.2" fill="#74d054"/>
<rect x="967.8" y="500.9" width="6.2" height="6.2" fill="#6bcc5a"/>
<rect x="973.8" y="500.9" width="6.2" height="6.2" fill="#62c95f"/>
<rect x="979.8" y="500.9" width="6.2" height="6.2" fill="#59c664"/>
<rect x="985.8" y="500.9" width="6.2" height="6.2" fill="#51c369"/>
<rect x="991.8" y="500.9" width="6.2" height="6.2" fill="#49c16e"/>
<rect x="997.8" y="500.9" width="6.2" height="6.2" fill="#42be71"/>
<rect x="1003.8" y="500.9" width="6.2" height="6.2" fill="#3ebb74"/>
<rect x="1009.8" y="500.9" width="6.2" height="6.2" fill="#39b877"/>
<rect x="1015.8" y="500.9" width="6.2" height="6.2" fill="#35b579"/>
<rect x="1021.8" y="500.9" width="6.2" height="6.2" fill="#31b27b"/>
<rect x="805.8" y="506.9" width="6.2" height="6.2" fill="#471a6b"/>
<rect x="811.8" y="506.9" width="6.2" height="6.2" fill="#423d83"/>
<rect x="817.8" y="506.9" width="6.2" height="6.2" fill="#38588c"/>
<rect x="823.8" y="506.9" width="6.2" height="6.2" fill="#2e6e8e"/>
<rect x="829.8" y="506.9" width="6.2" height="6.2" fill="#27808e"/>
<rect x="835.8" y="506.9" width="6.2" height="6.2" fill="#218f8c"/>
<rect x="841.8" y="506.9" width="6.2" height="6.2" fill="#219d88"/>
<rect x="847.8" y="506.9" width="6.2" height="6.2" fill="#24a983"/>
<rect x="853.8" y="506.9" width="6.2" height="6.2" fill="#34b47a"/>
<rect x="859.8" y="506.9" width="6.2" height="6.2" fill="#42be71"/>
<rect x="865.8" y="506.9" width="6.2" height="6.2" fill="#57c565"/>
<rect x="871.8" y="506.9" width="6.2" height="6.2" fill="#6bcc5a"/>
<rect x="877.8" y="506.9" width="6.2" height="6.2" fill="#80d34d"/>
<rect x="883.8" y="506.9" width="6.2" height="6.2" fill="#98d73e"/>
<rect x="889.8" y="506.9" width="6.2" height="6.2" fill="#aedc2f"/>
<rect x="895.8" y="506.9" width="6.2" height="6.2" fill="#c4e026"/>
<rect x="901.8" y="506.9" width="6.2" height="6.2" fill="#d9e226"/>
<rect x="907.8" y="506.9" width="6.2" height="6.2" fill="#eee525"/>
<rect x="913.8" y="506.9" width="6.2" height="6.2" fill="#33093f"/>
<rect x="919.8" y="506.9" width="6.2" height="6.2" fill="#efe525"/>
<rect x="925.8" y="506.9" width="6.2" height="6.2" fill="#dde325"/>
<rect x="931.8" y="506.9" width="6.2" height="6.2" fill="#cce126"/>
<rect x="937.8" y="506.9" width="6.2" height="6.2" fill="#bddf26"/>
<rect x="943.8" y="506.9" width="6.2" height="6.2" fill="#addc30"/>
<rect x="949.8" y="506.9" width="6.2" height="6.2" fill="#9fd939"/>
<rect x="955.8" y="506.9" width="6.2" height="6.2" fill="#91d642"/>
<rect x="961.8" y="506.9" width="6.2" height="6.2" fill="#84d34b"/>
<rect x="967.8" y="506.9" width="6.2" height="6.2" fill="#78d152"/>
<rect x="973.8" y="506.9" width="6.2" height="6.2" fill="#6fce58"/>
<rect x="979.8" y="506.9" width="6.2" height="6.2" fill="#66cb5d"/>
<rect x="985.8" y="506.9" width="6.2" height="6.2" fill="#5dc862"/>
<rect x="991.8" y="506.9" width="6.2" height="6.2" fill="#55c567"/>
<rect x="997.8" y="506.9" width="6.2" height="6.2" fill="#4dc26b"/>
<rect x="1003.8" y="506.9" width="6.2" height="6.2" fill="#46bf6f"/>
<rect x="1009.8" y="506.9" width="6.2" height="6.2" fill="#40bc72"/>
<rect x="1015.8" y="506.9" width="6.2" height="6.2" fill="#3cba75"/>
<rect x="1021.8" y="506.9" width="6.2" height="6.2" fill="#38b777"/>
<rect x="805.8" y="512.9" width="6.2" height="6.2" fill="#47196b"/>
<rect x="811.8" y="512.9" width="6.2" height="6.2" fill="#433c82"/>
<rect x="817.8" y="512.9" width="6.2" height="6.2" fill="#39568b"/>
<rect x="823.8" y="512.9" width="6.2" height="6.2" fill="#2f6b8e"/>
<rect x="829.8" y="512.9" width="6.2" height="6.2" fill="#287d8e"/>
<rect x="835.8" y="512.9" width="6.2" height="6.2" fill="#228c8d"/>
<rect x="841.8" y="512.9" width="6.2" height="6.2" fill="#219989"/>
<rect x="847.8" y="512.9" width="6.2" height="6.2" fill="#22a585"/>
<rect x="853.8" y="512.9" width="6.2" height="6.2" fill="#2daf7e"/>
<rect x="859.8" y="512.9" width="6.2" height="6.2" fill="#3bb975"/>
<rect x="865.8" y="512.9" width="6.2" height="6.2" fill="#4bc16c"/>
<rect x="871.8" y="512.9" width="6.2" height="6.2" fill="#5fc861"/>
<rect x="877.8" y="512.9" width="6.2" height="6.2" fill="#72cf56"/>
<rect x="883.8" y="512.9" width="6.2" height="6.2" fill="#87d449"/>
<rect x="889.8" y="512.9" width="6.2" height="6.2" fill="#9dd83a"/>
<rect x="895.8" y="512.9" width="6.2" height="6.2" fill="#b3dd2d"/>
<rect x="901.8" y="512.9" width="6.2" height="6.2" fill="#c7e026"/>
<rect x="907.8" y="512.9" width="6.2" height="6.2" fill="#dbe325"/>
<rect x="913.8" y="512.9" width="6.2" height="6.2" fill="#efe525"/>
<rect x="919.8" y="512.9" width="6.2" height="6.2" fill="#33093f"/>
<rect x="925.8" y="512.9" width="6.2" height="6.2" fill="#f0e525"/>
<rect x="931.8" y="512.9" width="6.2" height="6.2" fill="#dfe325"/>
<rect x="937.8" y="512.9" width="6.2" height="6.2" fill="#cee126"/>
<rect x="943.8" y="512.9" width="6.2" height="6.2" fill="#bfdf26"/>
<rect x="949.8" y="512.9" width="6.2" height="6.2" fill="#b0dc2e"/>
<rect x="955.8" y="512.9" width="6.2" height="6.2" fill="#a2d937"/>
<rect x="961.8" y="512.9" width="6.2" height="6.2" fill="#95d740"/>
<rect x="967.8" y="512.9" width="6.2" height="6.2" fill="#88d448"/>
<rect x="973.8" y="512.9" width="6.2" height="6.2" fill="#7cd250"/>
<rect x="979.8" y="512.9" width="6.2" height="6.2" fill="#72cf56"/>
<rect x="985.8" y="512.9" width="6.2" height="6.2" fill="#69cc5b"/>
<rect x="991.8" y="512.9" width="6.2" height="6.2" fill="#61c960"/>
<rect x="997.8" y="512.9" width="6.2" height="6.2" fill="#59c664"/>
<rect x="1003.8" y="512.9" width="6.2" height="6.2" fill="#51c369"/>
<rect x="1009.8" y="512.9" width="6.2" height="6.2" fill="#4ac16d"/>
<rect x="1015.8" y="512.9" width="6.2" height="6.2" fill="#43be71"/>
<rect x="1021.8" y="512.9" width="6.2" height="6.2" fill="#3fbb73"/>
<rect x="805.8" y="518.9" width="6.2" height="6.2" fill="#47196a"/>
<rect x="811.8" y="518.9" width="6.2" height="6.2" fill="#433a82"/>
<rect x="817.8" y="518.9" width="6.2" height="6.2" fill="#3a548b"/>
<rect x="823.8" y="518.9" width="6.2" height="6.2" fill="#31698e"/>
<rect x="829.8" y="518.9" width="6.2" height="6.2" fill="#297a8e"/>
<rect x="835.8" y="518.9" width="6.2" height="6.2" fill="#23898d"/>
<rect x="841.8" y="518.9" width="6.2" height="6.2" fill="#21968b"/>
<rect x="847.8" y="518.9" width="6.2" height="6.2" fill="#22a186"/>
<rect x="853.8" y="518.9" width="6.2" height="6.2" fill="#27ab81"/>
<rect x="859.8" y="518.9" width="6.2" height="6.2" fill="#35b579"/>
<rect x="865.8" y="518.9" width="6.2" height="6.2" fill="#42bd72"/>
<rect x="871.8" y="518.9" width="6.2" height="6.2" fill="#54c467"/>
<rect x="877.8" y="518.9" width="6.2" height="6.2" fill="#66cb5c"/>
<rect x="883.8" y="518.9" width="6.2" height="6.2" fill="#78d152"/>
<rect x="889.8" y="518.9" width="6.2" height="6.2" fill="#8dd545"/>
<rect x="895.8" y="518.9" width="6.2" height="6.2" fill="#a2d937"/>
<rect x="901.8" y="518.9" width="6.2" height="6.2" fill="#b7dd2a"/>
<rect x="907.8" y="518.9" width="6.2" height="6.2" fill="#cae026"/>
<rect x="913.8" y="518.9" width="6.2" height="6.2" fill="#dde325"/>
<rect x="919.8" y="518.9" width="6.2" height="6.2" fill="#f0e525"/>
<rect x="925.8" y="518.9" width="6.2" height="6.2" fill="#33093f"/>
<rect x="931.8" y="518.9" width="6.2" height="6.2" fill="#f1e525"/>
<rect x="937.8" y="518.9" width="6.2" height="6.2" fill="#e0e325"/>
<rect x="943.8" y="518.9" width="6.2" height="6.2" fill="#d0e126"/>
<rect x="949.8" y="518.9" width="6.2" height="6.2" fill="#c2df26"/>
<rect x="955.8" y="518.9" width="6.2" height="6.2" fill="#b3dd2c"/>
<rect x="961.8" y="518.9" width="6.2" height="6.2" fill="#a5da35"/>
<rect x="967.8" y="518.9" width="6.2" height="6.2" fill="#98d73e"/>
<rect x="973.8" y="518.9" width="6.2" height="6.2" fill="#8cd546"/>
<rect x="979.8" y="518.9" width="6.2" height="6.2" fill="#80d34d"/>
<rect x="985.8" y="518.9" width="6.2" height="6.2" fill="#75d054"/>
<rect x="991.8" y="518.9" width="6.2" height="6.2" fill="#6dcd59"/>
<rect x="997.8" y="518.9" width="6.2" height="6.2" fill="#64ca5e"/>
<rect x="1003.8" y="518.9" width="6.2" height="6.2" fill="#5cc762"/>
<rect x="1009.8" y="518.9" width="6.2" height="6.2" fill="#55c567"/>
<rect x="1015.8" y="518.9" width="6.2" height="6.2" fill="#4ec26b"/>
<rect x="1021.8" y="518.9" width="6.2" height="6.2" fill="#47c06f"/>
<rect x="805.8" y="524.9" width="6.2" height="6.2" fill="#471869"/>
<rect x="811.8" y="524.9" width="6.2" height="6.2" fill="#433981"/>
<rect x="817.8" y="524.9" width="6.2" height="6.2" fill="#3a528a"/>
<rect x="823.8" y="524.9" width="6.2" height="6.2" fill="#32668d"/>
<rect x="829.8" y="524.9" width="6.2" height="6.2" fill="#2a778e"/>
<rect x="835.8" y="524.9" width="6.2" height="6.2" fill="#25868d"/>
<rect x="841.8" y="524.9" width="6.2" height="6.2" fill="#21928c"/>
<rect x="847.8" y="524.9" width="6.2" height="6.2" fill="#229d88"/>
<rect x="853.8" y="524.9" width="6.2" height="6.2" fill="#22a784"/>
<rect x="859.8" y="524.9" width="6.2" height="6.2" fill="#2fb17d"/>
<rect x="865.8" y="524.9" width="6.2" height="6.2" fill="#3cb975"/>
<rect x="871.8" y="524.9" width="6.2" height="6.2" fill="#49c16d"/>
<rect x="877.8" y="524.9" width="6.2" height="6.2" fill="#5bc763"/>
<rect x="883.8" y="524.9" width="6.2" height="6.2" fill="#6dcd59"/>
<rect x="889.8" y="524.9" width="6.2" height="6.2" fill="#7ed24e"/>
<rect x="895.8" y="524.9" width="6.2" height="6.2" fill="#92d641"/>
<rect x="901.8" y="524.9" width="6.2" height="6.2" fill="#a6da35"/>
<rect x="907.8" y="524.9" width="6.2" height="6.2" fill="#bade28"/>
<rect x="913.8" y="524.9" width="6.2" height="6.2" fill="#cce126"/>
<rect x="919.8" y="524.9" width="6.2" height="6.2" fill="#dfe325"/>
<rect x="925.8" y="524.9" width="6.2" height="6.2" fill="#f1e525"/>
<rect x="931.8" y="524.9" width="6.2" height="6.2" fill="#33093f"/>
<rect x="937.8" y="524.9" width="6.2" height="6.2" fill="#f1e625"/>
<rect x="943.8" y="524.9" width="6.2" height="6.2" fill="#e1e325"/>
<rect x="949.8" y="524.9" width="6.2" height="6.2" fill="#d2e126"/>
<rect x="955.8" y="524.9" width="6.2" height="6.2" fill="#c4e026"/>
<rect x="961.8" y="524.9" width="6.2" height="6.2" fill="#b6dd2b"/>
<rect x="967.8" y="524.9" width="6.2" height="6.2" fill="#a8db34"/>
<rect x="973.8" y="524.9" width="6.2" height="6.2" fill="#9bd83c"/>
<rect x="979.8" y="524.9" width="6.2" height="6.2" fill="#8fd644"/>
<rect x="985.8" y="524.9" width="6.2" height="6.2" fill="#83d34b"/>
<rect x="991.8" y="524.9" width="6.2" height="6.2" fill="#78d152"/>
<rect x="997.8" y="524.9" width="6.2" height="6.2" fill="#70ce57"/>
<rect x="1003.8" y="524.9" width="6.2" height="6.2" fill="#68cb5c"/>
<rect x="1009.8" y="524.9" width="6.2" height="6.2" fill="#60c960"/>
<rect x="1015.8" y="524.9" width="6.2" height="6.2" fill="#58c665"/>
<rect x="1021.8" y="524.9" width="6.2" height="6.2" fill="#51c369"/>
<rect x="805.8" y="530.9" width="6.2" height="6.2" fill="#471769"/>
<rect x="811.8" y="530.9" width="6.2" height="6.2" fill="#443780"/>
<rect x="817.8" y="530.9" width="6.2" height="6.2" fill="#3b508a"/>
<rect x="823.8" y="530.9" width="6.2" height="6.2" fill="#32648d"/>
<rect x="829.8" y="530.9" width="6.2" height="6.2" fill="#2b758e"/>
<rect x="835.8" y="530.9" width="6.2" height="6.2" fill="#26838d"/>
<rect x="841.8" y="530.9" width="6.2" height="6.2" fill="#218f8d"/>
<rect x="847.8" y="530.9" width="6.2" height="6.2" fill="#219a89"/>
<rect x="853.8" y="530.9" width="6.2" height="6.2" fill="#22a485"/>
<rect x="859.8" y="530.9" width="6.2" height="6.2" fill="#29ad80"/>
<rect x="865.8" y="530.9" width="6.2" height="6.2" fill="#36b579"/>
<rect x="871.8" y="530.9" width="6.2" height="6.2" fill="#41bd72"/>
<rect x="877.8" y="530.9" width="6.2" height="6.2" fill="#51c369"/>
<rect x="883.8" y="530.9" width="6.2" height="6.2" fill="#62c95f"/>
<rect x="889.8" y="530.9" width="6.2" height="6.2" fill="#72cf56"/>
<rect x="895.8" y="530.9" width="6.2" height="6.2" fill="#84d34b"/>
<rect x="901.8" y="530.9" width="6.2" height="6.2" fill="#97d73e"/>
<rect x="907.8" y="530.9" width="6.2" height="6.2" fill="#aadb32"/>
<rect x="913.8" y="530.9" width="6.2" height="6.2" fill="#bddf26"/>
<rect x="919.8" y="530.9" width="6.2" height="6.2" fill="#cee126"/>
<rect x="925.8" y="530.9" width="6.2" height="6.2" fill="#e0e325"/>
<rect x="931.8" y="530.9" width="6.2" height="6.2" fill="#f1e625"/>
<rect x="937.8" y="530.9" width="6.2" height="6.2" fill="#33093f"/>
<rect x="943.8" y="530.9" width="6.2" height="6.2" fill="#f2e625"/>
<rect x="949.8" y="530.9" width="6.2" height="6.2" fill="#e2e425"/>
<rect x="955.8" y="530.9" width="6.2" height="6.2" fill="#d4e226"/>
<rect x="961.8" y="530.9" width="6.2" height="6.2" fill="#c6e026"/>
<rect x="967.8" y="530.9" width="6.2" height="6.2" fill="#b8de29"/>
<rect x="973.8" y="530.9" width="6.2" height="6.2" fill="#abdb32"/>
<rect x="979.8" y="530.9" width="6.2" height="6.2" fill="#9ed93a"/>
<rect x="985.8" y="530.9" width="6.2" height="6.2" fill="#92d642"/>
<rect x="991.8" y="530.9" width="6.2" height="6.2" fill="#87d449"/>
<rect x="997.8" y="530.9" width="6.2" height="6.2" fill="#7cd250"/>
<rect x="1003.8" y="530.9" width="6.2" height="6.2" fill="#73cf55"/>
<rect x="1009.8" y="530.9" width="6.2" height="6.2" fill="#6bcc5a"/>
<rect x="1015.8" y="530.9" width="6.2" height="6.2" fill="#63ca5e"/>
<rect x="1021.8" y="530.9" width="6.2" height="6.2" fill="#5cc763"/>
<rect x="805.8" y="536.9" width="6.2" height="6.2" fill="#471768"/>
<rect x="811.8" y="536.9" width="6.2" height="6.2" fill="#44367f"/>
<rect x="817.8" y="536.9" width="6.2" height="6.2" fill="#3c4e89"/>
<rect x="823.8" y="536.9" width="6.2" height="6.2" fill="#33628d"/>
<rect x="829.8" y="536.9" width="6.2" height="6.2" fill="#2c728e"/>
<rect x="835.8" y="536.9" width="6.2" height="6.2" fill="#27808e"/>
<rect x="841.8" y="536.9" width="6.2" height="6.2" fill="#228c8d"/>
<rect x="847.8" y="536.9" width="6.2" height="6.2" fill="#21978a"/>
<rect x="853.8" y="536.9" width="6.2" height="6.2" fill="#22a087"/>
<rect x="859.8" y="536.9" width="6.2" height="6.2" fill="#24a983"/>
<rect x="865.8" y="536.9" width="6.2" height="6.2" fill="#30b17c"/>
<rect x="871.8" y="536.9" width="6.2" height="6.2" fill="#3bb976"/>
<rect x="877.8" y="536.9" width="6.2" height="6.2" fill="#47c06f"/>
<rect x="883.8" y="536.9" width="6.2" height="6.2" fill="#57c665"/>
<rect x="889.8" y="536.9" width="6.2" height="6.2" fill="#67cb5c"/>
<rect x="895.8" y="536.9" width="6.2" height="6.2" fill="#77d053"/>
<rect x="901.8" y="536.9" width="6.2" height="6.2" fill="#89d448"/>
<rect x="907.8" y="536.9" width="6.2" height="6.2" fill="#9bd83c"/>
<rect x="913.8" y="536.9" width="6.2" height="6.2" fill="#addc30"/>
<rect x="919.8" y="536.9" width="6.2" height="6.2" fill="#bfdf26"/>
<rect x="925.8" y="536.9" width="6.2" height="6.2" fill="#d0e126"/>
<rect x="931.8" y="536.9" width="6.2" height="6.2" fill="#e1e325"/>
<rect x="937.8" y="536.9" width="6.2" height="6.2" fill="#f2e625"/>
<rect x="943.8" y="536.9" width="6.2" height="6.2" fill="#33093f"/>
<rect x="949.8" y="536.9" width="6.2" height="6.2" fill="#f2e625"/>
<rect x="955.8" y="536.9" width="6.2" height="6.2" fill="#e3e425"/>
<rect x="961.8" y="536.9" width="6.2" height="6.2" fill="#d5e226"/>
<rect x="967.8" y="536.9" width="6.2" height="6.2" fill="#c7e026"/>
<rect x="973.8" y="536.9" width="6.2" height="6.2" fill="#bade28"/>
<rect x="979.8" y="536.9" width="6.2" height="6.2" fill="#addc30"/>
<rect x="985.8" y="536.9" width="6.2" height="6.2" fill="#a1d938"/>
<rect x="991.8" y="536.9" width="6.2" height="6.2" fill="#95d740"/>
<rect x="997.8" y="536.9" width="6.2" height="6.2" fill="#8ad547"/>
<rect x="1003.8" y="536.9" width="6.2" height="6.2" fill="#7fd34e"/>
<rect x="1009.8" y="536.9" width="6.2" height="6.2" fill="#76d053"/>
<rect x="1015.8" y="536.9" width="6.2" height="6.2" fill="#6ecd58"/>
<rect x="1021.8" y="536.9" width="6.2" height="6.2" fill="#66cb5c"/>
<rect x="805.8" y="542.9" width="6.2" height="6.2" fill="#461668"/>
<rect x="811.8" y="542.9" width="6.2" height="6.2" fill="#44357e"/>
<rect x="817.8" y="542.9" width="6.2" height="6.2" fill="#3d4d89"/>
<rect x="823.8" y="542.9" width="6.2" height="6.2" fill="#34608d"/>
<rect x="829.8" y="542.9" width="6.2" height="6.2" fill="#2d708e"/>
<rect x="835.8" y="542.9" width="6.2" height="6.2" fill="#287d8e"/>
<rect x="841.8" y="542.9" width="6.2" height="6.2" fill="#23898d"/>
<rect x="847.8" y="542.9" width="6.2" height="6.2" fill="#21948b"/>
<rect x="853.8" y="542.9" width="6.2" height="6.2" fill="#229d88"/>
<rect x="859.8" y="542.9" width="6.2" height="6.2" fill="#22a685"/>
<rect x="865.8" y="542.9" width="6.2" height="6.2" fill="#2bae7f"/>
<rect x="871.8" y="542.9" width="6.2" height="6.2" fill="#36b579"/>
<rect x="877.8" y="542.9" width="6.2" height="6.2" fill="#40bc73"/>
<rect x="883.8" y="542.9" width="6.2" height="6.2" fill="#4ec26b"/>
<rect x="889.8" y="542.9" width="6.2" height="6.2" fill="#5dc862"/>
<rect x="895.8" y="542.9" width="6.2" height="6.2" fill="#6ccd59"/>
<rect x="901.8" y="542.9" width="6.2" height="6.2" fill="#7bd250"/>
<rect x="907.8" y="542.9" width="6.2" height="6.2" fill="#8dd545"/>
<rect x="913.8" y="542.9" width="6.2" height="6.2" fill="#9fd939"/>
<rect x="919.8" y="542.9" width="6.2" height="6.2" fill="#b0dc2e"/>
<rect x="925.8" y="542.9" width="6.2" height="6.2" fill="#c2df26"/>
<rect x="931.8" y="542.9" width="6.2" height="6.2" fill="#d2e126"/>
<rect x="937.8" y="542.9" width="6.2" height="6.2" fill="#e2e425"/>
<rect x="943.8" y="542.9" width="6.2" height="6.2" fill="#f2e625"/>
<rect x="949.8" y="542.9" width="6.2" height="6.2" fill="#33093f"/>
<rect x="955.8" y="542.9" width="6.2" height="6.2" fill="#f3e625"/>
<rect x="961.8" y="542.9" width="6.2" height="6.2" fill="#e4e425"/>
<rect x="967.8" y="542.9" width="6.2" height="6.2" fill="#d6e226"/>
<rect x="973.8" y="542.9" width="6.2" height="6.2" fill="#c9e026"/>
<rect x="979.8" y="542.9" width="6.2" height="6.2" fill="#bcdf27"/>
<rect x="985.8" y="542.9" width="6.2" height="6.2" fill="#b0dc2f"/>
<rect x="991.8" y="542.9" width="6.2" height="6.2" fill="#a4da36"/>
<rect x="997.8" y="542.9" width="6.2" height="6.2" fill="#98d73e"/>
<rect x="1003.8" y="542.9" width="6.2" height="6.2" fill="#8dd545"/>
<rect x="1009.8" y="542.9" width="6.2" height="6.2" fill="#82d34c"/>
<rect x="1015.8" y="542.9" width="6.2" height="6.2" fill="#78d152"/>
<rect x="1021.8" y="542.9" width="6.2" height="6.2" fill="#71ce56"/>
<rect x="805.8" y="548.9" width="6.2" height="6.2" fill="#461667"/>
<rect x="811.8" y="548.9" width="6.2" height="6.2" fill="#44347e"/>
<rect x="817.8" y="548.9" width="6.2" height="6.2" fill="#3d4b89"/>
<rect x="823.8" y="548.9" width="6.2" height="6.2" fill="#355e8d"/>
<rect x="829.8" y="548.9" width="6.2" height="6.2" fill="#2e6d8e"/>
<rect x="835.8" y="548.9" width="6.2" height="6.2" fill="#297b8e"/>
<rect x="841.8" y="548.9" width="6.2" height="6.2" fill="#24868d"/>
<rect x="847.8" y="548.9" width="6.2" height="6.2" fill="#21918c"/>
<rect x="853.8" y="548.9" width="6.2" height="6.2" fill="#219a89"/>
<rect x="859.8" y="548.9" width="6.2" height="6.2" fill="#22a286"/>
<rect x="865.8" y="548.9" width="6.2" height="6.2" fill="#26aa82"/>
<rect x="871.8" y="548.9" width="6.2" height="6.2" fill="#30b17c"/>
<rect x="877.8" y="548.9" width="6.2" height="6.2" fill="#3ab876"/>
<rect x="883.8" y="548.9" width="6.2" height="6.2" fill="#44bf70"/>
<rect x="889.8" y="548.9" width="6.2" height="6.2" fill="#53c467"/>
<rect x="895.8" y="548.9" width="6.2" height="6.2" fill="#62c95f"/>
<rect x="901.8" y="548.9" width="6.2" height="6.2" fill="#70ce57"/>
<rect x="907.8" y="548.9" width="6.2" height="6.2" fill="#80d34d"/>
<rect x="913.8" y="548.9" width="6.2" height="6.2" fill="#91d642"/>
<rect x="919.8" y="548.9" width="6.2" height="6.2" fill="#a2d937"/>
<rect x="925.8" y="548.9" width="6.2" height="6.2" fill="#b3dd2c"/>
<rect x="931.8" y="548.9" width="6.2" height="6.2" fill="#c4e026"/>
<rect x="937.8" y="548.9" width="6.2" height="6.2" fill="#d4e226"/>
<rect x="943.8" y="548.9" width="6.2" height="6.2" fill="#e3e425"/>
<rect x="949.8" y="548.9" width="6.2" height="6.2" fill="#f3e625"/>
<rect x="955.8" y="548.9" width="6.2" height="6.2" fill="#33093f"/>
<rect x="961.8" y="548.9" width="6.2" height="6.2" fill="#f3e625"/>
<rect x="967.8" y="548.9" width="6.2" height="6.2" fill="#e5e425"/>
<rect x="973.8" y="548.9" width="6.2" height="6.2" fill="#d7e226"/>
<rect x="979.8" y="548.9" width="6.2" height="6.2" fill="#cbe026"/>
<rect x="985.8" y="548.9" width="6.2" height="6.2" fill="#bedf26"/>
<rect x="991.8" y="548.9" width="6.2" height="6.2" fill="#b2dd2d"/>
<rect x="997.8" y="548.9" width="6.2" height="6.2" fill="#a6da35"/>
<rect x="1003.8" y="548.9" width="6.2" height="6.2" fill="#9bd83c"/>
<rect x="1009.8" y="548.9" width="6.2" height="6.2" fill="#90d643"/>
<rect x="1015.8" y="548.9" width="6.2" height="6.2" fill="#85d44a"/>
<rect x="1021.8" y="548.9" width="6.2" height="6.2" fill="#7bd250"/>
<rect x="805.8" y="554.9" width="6.2" height="6.2" fill="#461567"/>
<rect x="811.8" y="554.9" width="6.2" height="6.2" fill="#45327d"/>
<rect x="817.8" y="554.9" width="6.2" height="6.2" fill="#3e4a89"/>
<rect x="823.8" y="554.9" width="6.2" height="6.2" fill="#365c8c"/>
<rect x="829.8" y="554.9" width="6.2" height="6.2" fill="#2f6b8e"/>
<rect x="835.8" y="554.9" width="6.2" height="6.2" fill="#2a798e"/>
<rect x="841.8" y="554.9" width="6.2" height="6.2" fill="#25848d"/>
<rect x="847.8" y="554.9" width="6.2" height="6.2" fill="#218e8d"/>
<rect x="853.8" y="554.9" width="6.2" height="6.2" fill="#21978a"/>
<rect x="859.8" y="554.9" width="6.2" height="6.2" fill="#229f87"/>
<rect x="865.8" y="554.9" width="6.2" height="6.2" fill="#22a784"/>
<rect x="871.8" y="554.9" width="6.2" height="6.2" fill="#2bae7f"/>
<rect x="877.8" y="554.9" width="6.2" height="6.2" fill="#35b579"/>
<rect x="883.8" y="554.9" width="6.2" height="6.2" fill="#3fbb73"/>
<rect x="889.8" y="554.9" width="6.2" height="6.2" fill="#4ac16d"/>
<rect x="895.8" y="554.9" width="6.2" height="6.2" fill="#59c664"/>
<rect x="901.8" y="554.9" width="6.2" height="6.2" fill="#67cb5c"/>
<rect x="907.8" y="554.9" width="6.2" height="6.2" fill="#74d054"/>
<rect x="913.8" y="554.9" width="6.2" height="6.2" fill="#84d34b"/>
<rect x="919.8" y="554.9" width="6.2" height="6.2" fill="#95d740"/>
<rect x="925.8" y="554.9" width="6.2" height="6.2" fill="#a5da35"/>
<rect x="931.8" y="554.9" width="6.2" height="6.2" fill="#b6dd2b"/>
<rect x="937.8" y="554.9" width="6.2" height="6.2" fill="#c6e026"/>
<rect x="943.8" y="554.9" width="6.2" height="6.2" fill="#d5e226"/>
<rect x="949.8" y="554.9" width="6.2" height="6.2" fill="#e4e425"/>
<rect x="955.8" y="554.9" width="6.2" height="6.2" fill="#f3e625"/>
<rect x="961.8" y="554.9" width="6.2" height="6.2" fill="#33093f"/>
<rect x="967.8" y="554.9" width="6.2" height="6.2" fill="#f4e625"/>
<rect x="973.8" y="554.9" width="6.2" height="6.2" fill="#e6e425"/>
<rect x="979.8" y="554.9" width="6.2" height="6.2" fill="#d9e226"/>
<rect x="985.8" y="554.9" width="6.2" height="6.2" fill="#cce126"/>
<rect x="991.8" y="554.9" width="6.2" height="6.2" fill="#c0df26"/>
<rect x="997.8" y="554.9" width="6.2" height="6.2" fill="#b4dd2c"/>
<rect x="1003.8" y="554.9" width="6.2" height="6.2" fill="#a8db33"/>
<rect x="1009.8" y="554.9" width="6.2" height="6.2" fill="#9dd83b"/>
<rect x="1015.8" y="554.9" width="6.2" height="6.2" fill="#92d641"/>
<rect x="1021.8" y="554.9" width="6.2" height="6.2" fill="#88d448"/>
<rect x="805.8" y="560.9" width="6.2" height="6.2" fill="#461566"/>
<rect x="811.8" y="560.9" width="6.2" height="6.2" fill="#45317d"/>
<rect x="817.8" y="560.9" width="6.2" height="6.2" fill="#3f4988"/>
<rect x="823.8" y="560.9" width="6.2" height="6.2" fill="#375a8c"/>
<rect x="829.8" y="560.9" width="6.2" height="6.2" fill="#30698e"/>
<rect x="835.8" y="560.9" width="6.2" height="6.2" fill="#2b768e"/>
<rect x="841.8" y="560.9" width="6.2" height="6.2" fill="#26818e"/>
<rect x="847.8" y="560.9" width="6.2" height="6.2" fill="#228b8d"/>
<rect x="853.8" y="560.9" width="6.2" height="6.2" fill="#21948b"/>
<rect x="859.8" y="560.9" width="6.2" height="6.2" fill="#219c88"/>
<rect x="865.8" y="560.9" width="6.2" height="6.2" fill="#22a485"/>
<rect x="871.8" y="560.9" width="6.2" height="6.2" fill="#27ab82"/>
<rect x="877.8" y="560.9" width="6.2" height="6.2" fill="#30b17c"/>
<rect x="883.8" y="560.9" width="6.2" height="6.2" fill="#3ab876"/>
<rect x="889.8" y="560.9" width="6.2" height="6.2" fill="#43be71"/>
<rect x="895.8" y="560.9" width="6.2" height="6.2" fill="#50c36a"/>
<rect x="901.8" y="560.9" width="6.2" height="6.2" fill="#5dc862"/>
<rect x="907.8" y="560.9" width="6.2" height="6.2" fill="#6bcc5a"/>
<rect x="913.8" y="560.9" width="6.2" height="6.2" fill="#78d152"/>
<rect x="919.8" y="560.9" width="6.2" height="6.2" fill="#88d448"/>
<rect x="925.8" y="560.9" width="6.2" height="6.2" fill="#98d73e"/>
<rect x="931.8" y="560.9" width="6.2" height="6.2" fill="#a8db34"/>
<rect x="937.8" y="560.9" width="6.2" height="6.2" fill="#b8de29"/>
<rect x="943.8" y="560.9" width="6.2" height="6.2" fill="#c7e026"/>
<rect x="949.8" y="560.9" width="6.2" height="6.2" fill="#d6e226"/>
<rect x="955.8" y="560.9" width="6.2" height="6.2" fill="#e5e425"/>
<rect x="961.8" y="560.9" width="6.2" height="6.2" fill="#f4e625"/>
<rect x="967.8" y="560.9" width="6.2" height="6.2" fill="#33093f"/>
<rect x="973.8" y="560.9" width="6.2" height="6.2" fill="#f4e625"/>
<rect x="979.8" y="560.9" width="6.2" height="6.2" fill="#e7e425"/>
<rect x="985.8" y="560.9" width="6.2" height="6.2" fill="#dae225"/>
<rect x="991.8" y="560.9" width="6.2" height="6.2" fill="#cde126"/>
<rect x="997.8" y="560.9" width="6.2" height="6.2" fill="#c2df26"/>
<rect x="1003.8" y="560.9" width="6.2" height="6.2" fill="#b6dd2b"/>
<rect x="1009.8" y="560.9" width="6.2" height="6.2" fill="#aadb32"/>
<rect x="1015.8" y="560.9" width="6.2" height="6.2" fill="#a0d939"/>
<rect x="1021.8" y="560.9" width="6.2" height="6.2" fill="#95d740"/>
<rect x="805.8" y="566.9" width="6.2" height="6.2" fill="#461466"/>
<rect x="811.8" y="566.9" width="6.2" height="6.2" fill="#45307c"/>
<rect x="817.8" y="566.9" width="6.2" height="6.2" fill="#3f4788"/>
<rect x="823.8" y="566.9" width="6.2" height="6.2" fill="#37598c"/>
<rect x="829.8" y="566.9" width="6.2" height="6.2" fill="#31678d"/>
<rect x="835.8" y="566.9" width="6.2" height="6.2" fill="#2b748e"/>
<rect x="841.8" y="566.9" width="6.2" height="6.2" fill="#277f8e"/>
<rect x="847.8" y="566.9" width="6.2" height="6.2" fill="#23898d"/>
<rect x="853.8" y="566.9" width="6.2" height="6.2" fill="#21928c"/>
<rect x="859.8" y="566.9" width="6.2" height="6.2" fill="#219989"/>
<rect x="865.8" y="566.9" width="6.2" height="6.2" fill="#22a187"/>
<rect x="871.8" y="566.9" width="6.2" height="6.2" fill="#22a884"/>
<rect x="877.8" y="566.9" width="6.2" height="6.2" fill="#2bae7f"/>
<rect x="883.8" y="566.9" width="6.2" height="6.2" fill="#35b479"/>
<rect x="889.8" y="566.9" width="6.2" height="6.2" fill="#3dba74"/>
<rect x="895.8" y="566.9" width="6.2" height="6.2" fill="#47c06f"/>
<rect x="901.8" y="566.9" width="6.2" height="6.2" fill="#55c567"/>
<rect x="907.8" y="566.9" width="6.2" height="6.2" fill="#62c95f"/>
<rect x="913.8" y="566.9" width="6.2" height="6.2" fill="#6fce58"/>
<rect x="919.8" y="566.9" width="6.2" height="6.2" fill="#7cd250"/>
<rect x="925.8" y="566.9" width="6.2" height="6.2" fill="#8cd546"/>
<rect x="931.8" y="566.9" width="6.2" height="6.2" fill="#9bd83c"/>
<rect x="937.8" y="566.9" width="6.2" height="6.2" fill="#abdb32"/>
<rect x="943.8" y="566.9" width="6.2" height="6.2" fill="#bade28"/>
<rect x="949.8" y="566.9" width="6.2" height="6.2" fill="#c9e026"/>
<rect x="955.8" y="566.9" width="6.2" height="6.2" fill="#d7e226"/>
<rect x="961.8" y="566.9" width="6.2" height="6.2" fill="#e6e425"/>
<rect x="967.8" y="566.9" width="6.2" height="6.2" fill="#f4e625"/>
<rect x="973.8" y="566.9" width="6.2" height="6.2" fill="#33093f"/>
<rect x="979.8" y="566.9" width="6.2" height="6.2" fill="#f5e625"/>
<rect x="985.8" y="566.9" width="6.2" height="6.2" fill="#e7e425"/>
<rect x="991.8" y="566.9" width="6.2" height="6.2" fill="#dbe325"/>
<rect x="997.8" y="566.9" width="6.2" height="6.2" fill="#cfe126"/>
<rect x="1003.8" y="566.9" width="6.2" height="6.2" fill="#c3e026"/>
<rect x="1009.8" y="566.9" width="6.2" height="6.2" fill="#b8de2a"/>
<rect x="1015.8" y="566.9" width="6.2" height="6.2" fill="#addb31"/>
<rect x="1021.8" y="566.9" width="6.2" height="6.2" fill="#a2d938"/>
<rect x="805.8" y="572.9" width="6.2" height="6.2" fill="#461466"/>
<rect x="811.8" y="572.9" width="6.2" height="6.2" fill="#452f7b"/>
<rect x="817.8" y="572.9" width="6.2" height="6.2" fill="#404688"/>
<rect x="823.8" y="572.9" width="6.2" height="6.2" fill="#38578b"/>
<rect x="829.8" y="572.9" width="6.2" height="6.2" fill="#32668d"/>
<rect x="835.8" y="572.9" width="6.2" height="6.2" fill="#2c728e"/>
<rect x="841.8" y="572.9" width="6.2" height="6.2" fill="#287d8e"/>
<rect x="847.8" y="572.9" width="6.2" height="6.2" fill="#24868d"/>
<rect x="853.8" y="572.9" width="6.2" height="6.2" fill="#218f8d"/>
<rect x="859.8" y="572.9" width="6.2" height="6.2" fill="#21978a"/>
<rect x="865.8" y="572.9" width="6.2" height="6.2" fill="#229e88"/>
<rect x="871.8" y="572.9" width="6.2" height="6.2" fill="#22a585"/>
<rect x="877.8" y="572.9" width="6.2" height="6.2" fill="#27ab81"/>
<rect x="883.8" y="572.9" width="6.2" height="6.2" fill="#30b17c"/>
<rect x="889.8" y="572.9" width="6.2" height="6.2" fill="#38b777"/>
<rect x="895.8" y="572.9" width="6.2" height="6.2" fill="#41bd72"/>
<rect x="901.8" y="572.9" width="6.2" height="6.2" fill="#4cc26c"/>
<rect x="907.8" y="572.9" width="6.2" height="6.2" fill="#59c664"/>
<rect x="913.8" y="572.9" width="6.2" height="6.2" fill="#66cb5d"/>
<rect x="919.8" y="572.9" width="6.2" height="6.2" fill="#72cf56"/>
<rect x="925.8" y="572.9" width="6.2" height="6.2" fill="#80d34d"/>
<rect x="931.8" y="572.9" width="6.2" height="6.2" fill="#8fd644"/>
<rect x="937.8" y="572.9" width="6.2" height="6.2" fill="#9ed93a"/>
<rect x="943.8" y="572.9" width="6.2" height="6.2" fill="#addc30"/>
<rect x="949.8" y="572.9" width="6.2" height="6.2" fill="#bcdf27"/>
<rect x="955.8" y="572.9" width="6.2" height="6.2" fill="#cbe026"/>
<rect x="961.8" y="572.9" width="6.2" height="6.2" fill="#d9e226"/>
<rect x="967.8" y="572.9" width="6.2" height="6.2" fill="#e7e425"/>
<rect x="973.8" y="572.9" width="6.2" height="6.2" fill="#f5e625"/>
<rect x="979.8" y="572.9" width="6.2" height="6.2" fill="#33093f"/>
<rect x="985.8" y="572.9" width="6.2" height="6.2" fill="#f5e625"/>
<rect x="991.8" y="572.9" width="6.2" height="6.2" fill="#e8e425"/>
<rect x="997.8" y="572.9" width="6.2" height="6.2" fill="#dce325"/>
<rect x="1003.8" y="572.9" width="6.2" height="6.2" fill="#d0e126"/>
<rect x="1009.8" y="572.9" width="6.2" height="6.2" fill="#c5e026"/>
<rect x="1015.8" y="572.9" width="6.2" height="6.2" fill="#b9de28"/>
<rect x="1021.8" y="572.9" width="6.2" height="6.2" fill="#afdc2f"/>
<rect x="805.8" y="578.9" width="6.2" height="6.2" fill="#461465"/>
<rect x="811.8" y="578.9" width="6.2" height="6.2" fill="#462f7b"/>
<rect x="817.8" y="578.9" width="6.2" height="6.2" fill="#404587"/>
<rect x="823.8" y="578.9" width="6.2" height="6.2" fill="#39568b"/>
<rect x="829.8" y="578.9" width="6.2" height="6.2" fill="#33648d"/>
<rect x="835.8" y="578.9" width="6.2" height="6.2" fill="#2d708e"/>
<rect x="841.8" y="578.9" width="6.2" height="6.2" fill="#297b8e"/>
<rect x="847.8" y="578.9" width="6.2" height="6.2" fill="#25848d"/>
<rect x="853.8" y="578.9" width="6.2" height="6.2" fill="#228d8d"/>
<rect x="859.8" y="578.9" width="6.2" height="6.2" fill="#21948b"/>
<rect x="865.8" y="578.9" width="6.2" height="6.2" fill="#219b89"/>
<rect x="871.8" y="578.9" width="6.2" height="6.2" fill="#22a286"/>
<rect x="877.8" y="578.9" width="6.2" height="6.2" fill="#23a884"/>
<rect x="883.8" y="578.9" width="6.2" height="6.2" fill="#2bae7f"/>
<rect x="889.8" y="578.9" width="6.2" height="6.2" fill="#34b47a"/>
<rect x="895.8" y="578.9" width="6.2" height="6.2" fill="#3cb975"/>
<rect x="901.8" y="578.9" width="6.2" height="6.2" fill="#44bf70"/>
<rect x="907.8" y="578.9" width="6.2" height="6.2" fill="#51c369"/>
<rect x="913.8" y="578.9" width="6.2" height="6.2" fill="#5dc862"/>
<rect x="919.8" y="578.9" width="6.2" height="6.2" fill="#69cc5b"/>
<rect x="925.8" y="578.9" width="6.2" height="6.2" fill="#75d054"/>
<rect x="931.8" y="578.9" width="6.2" height="6.2" fill="#83d34b"/>
<rect x="937.8" y="578.9" width="6.2" height="6.2" fill="#92d642"/>
<rect x="943.8" y="578.9" width="6.2" height="6.2" fill="#a1d938"/>
<rect x="949.8" y="578.9" width="6.2" height="6.2" fill="#b0dc2f"/>
<rect x="955.8" y="578.9" width="6.2" height="6.2" fill="#bedf26"/>
<rect x="961.8" y="578.9" width="6.2" height="6.2" fill="#cce126"/>
<rect x="967.8" y="578.9" width="6.2" height="6.2" fill="#dae225"/>
<rect x="973.8" y="578.9" width="6.2" height="6.2" fill="#e7e425"/>
<rect x="979.8" y="578.9" width="6.2" height="6.2" fill="#f5e625"/>
<rect x="985.8" y="578.9" width="6.2" height="6.2" fill="#33093f"/>
<rect x="991.8" y="578.9" width="6.2" height="6.2" fill="#f5e625"/>
<rect x="997.8" y="578.9" width="6.2" height="6.2" fill="#e9e425"/>
<rect x="1003.8" y="578.9" width="6.2" height="6.2" fill="#dde325"/>
<rect x="1009.8" y="578.9" width="6.2" height="6.2" fill="#d1e126"/>
<rect x="1015.8" y="578.9" width="6.2" height="6.2" fill="#c6e026"/>
<rect x="1021.8" y="578.9" width="6.2" height="6.2" fill="#bbde27"/>
<rect x="805.8" y="584.9" width="6.2" height="6.2" fill="#461365"/>
<rect x="811.8" y="584.9" width="6.2" height="6.2" fill="#462e7a"/>
<rect x="817.8" y="584.9" width="6.2" height="6.2" fill="#414487"/>
<rect x="823.8" y="584.9" width="6.2" height="6.2" fill="#39548b"/>
<rect x="829.8" y="584.9" width="6.2" height="6.2" fill="#33628d"/>
<rect x="835.8" y="584.9" width="6.2" height="6.2" fill="#2e6e8e"/>
<rect x="841.8" y="584.9" width="6.2" height="6.2" fill="#2a798e"/>
<rect x="847.8" y="584.9" width="6.2" height="6.2" fill="#26828e"/>
<rect x="853.8" y="584.9" width="6.2" height="6.2" fill="#238a8d"/>
<rect x="859.8" y="584.9" width="6.2" height="6.2" fill="#21928c"/>
<rect x="865.8" y="584.9" width="6.2" height="6.2" fill="#21998a"/>
<rect x="871.8" y="584.9" width="6.2" height="6.2" fill="#229f87"/>
<rect x="877.8" y="584.9" width="6.2" height="6.2" fill="#22a585"/>
<rect x="883.8" y="584.9" width="6.2" height="6.2" fill="#27ab81"/>
<rect x="889.8" y="584.9" width="6.2" height="6.2" fill="#2fb17c"/>
<rect x="895.8" y="584.9" width="6.2" height="6.2" fill="#37b678"/>
<rect x="901.8" y="584.9" width="6.2" height="6.2" fill="#3fbc73"/>
<rect x="907.8" y="584.9" width="6.2" height="6.2" fill="#49c16e"/>
<rect x="913.8" y="584.9" width="6.2" height="6.2" fill="#55c567"/>
<rect x="919.8" y="584.9" width="6.2" height="6.2" fill="#61c960"/>
<rect x="925.8" y="584.9" width="6.2" height="6.2" fill="#6dcd59"/>
<rect x="931.8" y="584.9" width="6.2" height="6.2" fill="#78d152"/>
<rect x="937.8" y="584.9" width="6.2" height="6.2" fill="#87d449"/>
<rect x="943.8" y="584.9" width="6.2" height="6.2" fill="#95d740"/>
<rect x="949.8" y="584.9" width="6.2" height="6.2" fill="#a4da36"/>
<rect x="955.8" y="584.9" width="6.2" height="6.2" fill="#b2dd2d"/>
<rect x="961.8" y="584.9" width="6.2" height="6.2" fill="#c0df26"/>
<rect x="967.8" y="584.9" width="6.2" height="6.2" fill="#cde126"/>
<rect x="973.8" y="584.9" width="6.2" height="6.2" fill="#dbe325"/>
<rect x="979.8" y="584.9" width="6.2" height="6.2" fill="#e8e425"/>
<rect x="985.8" y="584.9" width="6.2" height="6.2" fill="#f5e625"/>
<rect x="991.8" y="584.9" width="6.2" height="6.2" fill="#33093f"/>
<rect x="997.8" y="584.9" width="6.2" height="6.2" fill="#f6e625"/>
<rect x="1003.8" y="584.9" width="6.2" height="6.2" fill="#e9e425"/>
<rect x="1009.8" y="584.9" width="6.2" height="6.2" fill="#dee325"/>
<rect x="1015.8" y="584.9" width="6.2" height="6.2" fill="#d2e126"/>
<rect x="1021.8" y="584.9" width="6.2" height="6.2" fill="#c7e026"/>
<rect x="805.8" y="590.9" width="6.2" height="6.2" fill="#461365"/>
<rect x="811.8" y="590.9" width="6.2" height="6.2" fill="#462d7a"/>
<rect x="817.8" y="590.9" width="6.2" height="6.2" fill="#414286"/>
<rect x="823.8" y="590.9" width="6.2" height="6.2" fill="#3a538a"/>
<rect x="829.8" y="590.9" width="6.2" height="6.2" fill="#34618d"/>
<rect x="835.8" y="590.9" width="6.2" height="6.2" fill="#2f6c8e"/>
<rect x="841.8" y="590.9" width="6.2" height="6.2" fill="#2a778e"/>
<rect x="847.8" y="590.9" width="6.2" height="6.2" fill="#27808e"/>
<rect x="853.8" y="590.9" width="6.2" height="6.2" fill="#24888d"/>
<rect x="859.8" y="590.9" width="6.2" height="6.2" fill="#218f8c"/>
<rect x="865.8" y="590.9" width="6.2" height="6.2" fill="#21968a"/>
<rect x="871.8" y="590.9" width="6.2" height="6.2" fill="#219c88"/>
<rect x="877.8" y="590.9" width="6.2" height="6.2" fill="#22a386"/>
<rect x="883.8" y="590.9" width="6.2" height="6.2" fill="#23a884"/>
<rect x="889.8" y="590.9" width="6.2" height="6.2" fill="#2bae7f"/>
<rect x="895.8" y="590.9" width="6.2" height="6.2" fill="#33b37a"/>
<rect x="901.8" y="590.9" width="6.2" height="6.2" fill="#3bb976"/>
<rect x="907.8" y="590.9" width="6.2" height="6.2" fill="#42be71"/>
<rect x="913.8" y="590.9" width="6.2" height="6.2" fill="#4dc26b"/>
<rect x="919.8" y="590.9" width="6.2" height="6.2" fill="#59c664"/>
<rect x="925.8" y="590.9" width="6.2" height="6.2" fill="#64ca5e"/>
<rect x="931.8" y="590.9" width="6.2" height="6.2" fill="#70ce57"/>
<rect x="937.8" y="590.9" width="6.2" height="6.2" fill="#7cd250"/>
<rect x="943.8" y="590.9" width="6.2" height="6.2" fill="#8ad547"/>
<rect x="949.8" y="590.9" width="6.2" height="6.2" fill="#98d73e"/>
<rect x="955.8" y="590.9" width="6.2" height="6.2" fill="#a6da35"/>
<rect x="961.8" y="590.9" width="6.2" height="6.2" fill="#b4dd2c"/>
<rect x="967.8" y="590.9" width="6.2" height="6.2" fill="#c2df26"/>
<rect x="973.8" y="590.9" width="6.2" height="6.2" fill="#cfe126"/>
<rect x="979.8" y="590.9" width="6.2" height="6.2" fill="#dce325"/>
<rect x="985.8" y="590.9" width="6.2" height="6.2" fill="#e9e425"/>
<rect x="991.8" y="590.9" width="6.2" height="6.2" fill="#f6e625"/>
<rect x="997.8" y="590.9" width="6.2" height="6.2" fill="#33093f"/>
<rect x="1003.8" y="590.9" width="6.2" height="6.2" fill="#f6e625"/>
<rect x="1009.8" y="590.9" width="6.2" height="6.2" fill="#eae525"/>
<rect x="1015.8" y="590.9" width="6.2" height="6.2" fill="#dee325"/>
<rect x="1021.8" y="590.9" width="6.2" height="6.2" fill="#d3e226"/>
<rect x="805.8" y="596.9" width="6.2" height="6.2" fill="#461364"/>
<rect x="811.8" y="596.9" width="6.2" height="6.2" fill="#462c79"/>
<rect x="817.8" y="596.9" width="6.2" height="6.2" fill="#414186"/>
<rect x="823.8" y="596.9" width="6.2" height="6.2" fill="#3b518a"/>
<rect x="829.8" y="596.9" width="6.2" height="6.2" fill="#355f8d"/>
<rect x="835.8" y="596.9" width="6.2" height="6.2" fill="#306b8e"/>
<rect x="841.8" y="596.9" width="6.2" height="6.2" fill="#2b758e"/>
<rect x="847.8" y="596.9" width="6.2" height="6.2" fill="#287e8e"/>
<rect x="853.8" y="596.9" width="6.2" height="6.2" fill="#25868d"/>
<rect x="859.8" y="596.9" width="6.2" height="6.2" fill="#228d8d"/>
<rect x="865.8" y="596.9" width="6.2" height="6.2" fill="#21948b"/>
<rect x="871.8" y="596.9" width="6.2" height="6.2" fill="#219a89"/>
<rect x="877.8" y="596.9" width="6.2" height="6.2" fill="#22a087"/>
<rect x="883.8" y="596.9" width="6.2" height="6.2" fill="#22a685"/>
<rect x="889.8" y="596.9" width="6.2" height="6.2" fill="#27ab81"/>
<rect x="895.8" y="596.9" width="6.2" height="6.2" fill="#2fb07d"/>
<rect x="901.8" y="596.9" width="6.2" height="6.2" fill="#36b678"/>
<rect x="907.8" y="596.9" width="6.2" height="6.2" fill="#3ebb74"/>
<rect x="913.8" y="596.9" width="6.2" height="6.2" fill="#46bf6f"/>
<rect x="919.8" y="596.9" width="6.2" height="6.2" fill="#51c369"/>
<rect x="925.8" y="596.9" width="6.2" height="6.2" fill="#5cc762"/>
<rect x="931.8" y="596.9" width="6.2" height="6.2" fill="#68cb5c"/>
<rect x="937.8" y="596.9" width="6.2" height="6.2" fill="#73cf55"/>
<rect x="943.8" y="596.9" width="6.2" height="6.2" fill="#7fd34e"/>
<rect x="949.8" y="596.9" width="6.2" height="6.2" fill="#8dd545"/>
<rect x="955.8" y="596.9" width="6.2" height="6.2" fill="#9bd83c"/>
<rect x="961.8" y="596.9" width="6.2" height="6.2" fill="#a8db33"/>
<rect x="967.8" y="596.9" width="6.2" height="6.2" fill="#b6dd2b"/>
<rect x="973.8" y="596.9" width="6.2" height="6.2" fill="#c3e026"/>
<rect x="979.8" y="596.9" width="6.2" height="6.2" fill="#d0e126"/>
<rect x="985.8" y="596.9" width="6.2" height="6.2" fill="#dde325"/>
<rect x="991.8" y="596.9" width="6.2" height="6.2" fill="#e9e425"/>
<rect x="997.8" y="596.9" width="6.2" height="6.2" fill="#f6e625"/>
<rect x="1003.8" y="596.9" width="6.2" height="6.2" fill="#33093f"/>
<rect x="1009.8" y="596.9" width="6.2" height="6.2" fill="#f6e625"/>
<rect x="1015.8" y="596.9" width="6.2" height="6.2" fill="#ebe525"/>
<rect x="1021.8" y="596.9" width="6.2" height="6.2" fill="#dfe325"/>
<rect x="805.8" y="602.9" width="6.2" height="6.2" fill="#461264"/>
<rect x="811.8" y="602.9" width="6.2" height="6.2" fill="#462b79"/>
<rect x="817.8" y="602.9" width="6.2" height="6.2" fill="#424085"/>
<rect x="823.8" y="602.9" width="6.2" height="6.2" fill="#3b508a"/>
<rect x="829.8" y="602.9" width="6.2" height="6.2" fill="#355e8d"/>
<rect x="835.8" y="602.9" width="6.2" height="6.2" fill="#30698e"/>
<rect x="841.8" y="602.9" width="6.2" height="6.2" fill="#2c738e"/>
<rect x="847.8" y="602.9" width="6.2" height="6.2" fill="#287c8e"/>
<rect x="853.8" y="602.9" width="6.2" height="6.2" fill="#25838d"/>
<rect x="859.8" y="602.9" width="6.2" height="6.2" fill="#238b8d"/>
<rect x="865.8" y="602.9" width="6.2" height="6.2" fill="#21918c"/>
<rect x="871.8" y="602.9" width="6.2" height="6.2" fill="#21988a"/>
<rect x="877.8" y="602.9" width="6.2" height="6.2" fill="#229d88"/>
<rect x="883.8" y="602.9" width="6.2" height="6.2" fill="#22a386"/>
<rect x="889.8" y="602.9" width="6.2" height="6.2" fill="#23a884"/>
<rect x="895.8" y="602.9" width="6.2" height="6.2" fill="#2bae7f"/>
<rect x="901.8" y="602.9" width="6.2" height="6.2" fill="#32b37b"/>
<rect x="907.8" y="602.9" width="6.2" height="6.2" fill="#39b877"/>
<rect x="913.8" y="602.9" width="6.2" height="6.2" fill="#40bc72"/>
<rect x="919.8" y="602.9" width="6.2" height="6.2" fill="#4ac16d"/>
<rect x="925.8" y="602.9" width="6.2" height="6.2" fill="#55c567"/>
<rect x="931.8" y="602.9" width="6.2" height="6.2" fill="#60c960"/>
<rect x="937.8" y="602.9" width="6.2" height="6.2" fill="#6bcc5a"/>
<rect x="943.8" y="602.9" width="6.2" height="6.2" fill="#76d053"/>
<rect x="949.8" y="602.9" width="6.2" height="6.2" fill="#82d34c"/>
<rect x="955.8" y="602.9" width="6.2" height="6.2" fill="#90d643"/>
<rect x="961.8" y="602.9" width="6.2" height="6.2" fill="#9dd83b"/>
<rect x="967.8" y="602.9" width="6.2" height="6.2" fill="#aadb32"/>
<rect x="973.8" y="602.9" width="6.2" height="6.2" fill="#b8de2a"/>
<rect x="979.8" y="602.9" width="6.2" height="6.2" fill="#c5e026"/>
<rect x="985.8" y="602.9" width="6.2" height="6.2" fill="#d1e126"/>
<rect x="991.8" y="602.9" width="6.2" height="6.2" fill="#dee325"/>
<rect x="997.8" y="602.9" width="6.2" height="6.2" fill="#eae525"/>
<rect x="1003.8" y="602.9" width="6.2" height="6.2" fill="#f6e625"/>
<rect x="1009.8" y="602.9" width="6.2" height="6.2" fill="#33093f"/>
<rect x="1015.8" y="602.9" width="6.2" height="6.2" fill="#f7e625"/>
<rect x="1021.8" y="602.9" width="6.2" height="6.2" fill="#ebe525"/>
<rect x="805.8" y="608.9" width="6.2" height="6.2" fill="#461264"/>
<rect x="811.8" y="608.9" width="6.2" height="6.2" fill="#472b79"/>
<rect x="817.8" y="608.9" width="6.2" height="6.2" fill="#423f84"/>
<rect x="823.8" y="608.9" width="6.2" height="6.2" fill="#3c4f8a"/>
<rect x="829.8" y="608.9" width="6.2" height="6.2" fill="#365c8c"/>
<rect x="835.8" y="608.9" width="6.2" height="6.2" fill="#31678d"/>
<rect x="841.8" y="608.9" width="6.2" height="6.2" fill="#2d718e"/>
<rect x="847.8" y="608.9" width="6.2" height="6.2" fill="#297a8e"/>
<rect x="853.8" y="608.9" width="6.2" height="6.2" fill="#26818e"/>
<rect x="859.8" y="608.9" width="6.2" height="6.2" fill="#24898d"/>
<rect x="865.8" y="608.9" width="6.2" height="6.2" fill="#218f8d"/>
<rect x="871.8" y="608.9" width="6.2" height="6.2" fill="#21958b"/>
<rect x="877.8" y="608.9" width="6.2" height="6.2" fill="#219b89"/>
<rect x="883.8" y="608.9" width="6.2" height="6.2" fill="#22a087"/>
<rect x="889.8" y="608.9" width="6.2" height="6.2" fill="#22a685"/>
<rect x="895.8" y="608.9" width="6.2" height="6.2" fill="#27ab81"/>
<rect x="901.8" y="608.9" width="6.2" height="6.2" fill="#2eb07d"/>
<rect x="907.8" y="608.9" width="6.2" height="6.2" fill="#35b579"/>
<rect x="913.8" y="608.9" width="6.2" height="6.2" fill="#3cba75"/>
<rect x="919.8" y="608.9" width="6.2" height="6.2" fill="#43be71"/>
<rect x="925.8" y="608.9" width="6.2" height="6.2" fill="#4ec26b"/>
<rect x="931.8" y="608.9" width="6.2" height="6.2" fill="#58c665"/>
<rect x="937.8" y="608.9" width="6.2" height="6.2" fill="#63ca5e"/>
<rect x="943.8" y="608.9" width="6.2" height="6.2" fill="#6ecd58"/>
<rect x="949.8" y="608.9" width="6.2" height="6.2" fill="#78d152"/>
<rect x="955.8" y="608.9" width="6.2" height="6.2" fill="#85d44a"/>
<rect x="961.8" y="608.9" width="6.2" height="6.2" fill="#92d641"/>
<rect x="967.8" y="608.9" width="6.2" height="6.2" fill="#a0d939"/>
<rect x="973.8" y="608.9" width="6.2" height="6.2" fill="#addb31"/>
<rect x="979.8" y="608.9" width="6.2" height="6.2" fill="#b9de28"/>
<rect x="985.8" y="608.9" width="6.2" height="6.2" fill="#c6e026"/>
<rect x="991.8" y="608.9" width="6.2" height="6.2" fill="#d2e126"/>
<rect x="997.8" y="608.9" width="6.2" height="6.2" fill="#dee325"/>
<rect x="1003.8" y="608.9" width="6.2" height="6.2" fill="#ebe525"/>
<rect x="1009.8" y="608.9" width="6.2" height="6.2" fill="#f7e625"/>
<rect x="1015.8" y="608.9" width="6.2" height="6.2" fill="#33093f"/>
<rect x="1021.8" y="608.9" width="6.2" height="6.2" fill="#f7e625"/>
<rect x="805.8" y="614.9" width="6.2" height="6.2" fill="#461263"/>
<rect x="811.8" y="614.9" width="6.2" height="6.2" fill="#472a78"/>
<rect x="817.8" y="614.9" width="6.2" height="6.2" fill="#423e84"/>
<rect x="823.8" y="614.9" width="6.2" height="6.2" fill="#3c4e89"/>
<rect x="829.8" y="614.9" width="6.2" height="6.2" fill="#375b8c"/>
<rect x="835.8" y="614.9" width="6.2" height="6.2" fill="#32668d"/>
<rect x="841.8" y="614.9" width="6.2" height="6.2" fill="#2e6f8e"/>
<rect x="847.8" y="614.9" width="6.2" height="6.2" fill="#2a788e"/>
<rect x="853.8" y="614.9" width="6.2" height="6.2" fill="#27808e"/>
<rect x="859.8" y="614.9" width="6.2" height="6.2" fill="#24868d"/>
<rect x="865.8" y="614.9" width="6.2" height="6.2" fill="#228d8d"/>
<rect x="871.8" y="614.9" width="6.2" height="6.2" fill="#21938c"/>
<rect x="877.8" y="614.9" width="6.2" height="6.2" fill="#219989"/>
<rect x="883.8" y="614.9" width="6.2" height="6.2" fill="#229e88"/>
<rect x="889.8" y="614.9" width="6.2" height="6.2" fill="#22a386"/>
<rect x="895.8" y="614.9" width="6.2" height="6.2" fill="#23a884"/>
<rect x="901.8" y="614.9" width="6.2" height="6.2" fill="#2aad80"/>
<rect x="907.8" y="614.9" width="6.2" height="6.2" fill="#31b27b"/>
<rect x="913.8" y="614.9" width="6.2" height="6.2" fill="#38b777"/>
<rect x="919.8" y="614.9" width="6.2" height="6.2" fill="#3fbb73"/>
<rect x="925.8" y="614.9" width="6.2" height="6.2" fill="#47c06f"/>
<rect x="931.8" y="614.9" width="6.2" height="6.2" fill="#51c369"/>
<rect x="937.8" y="614.9" width="6.2" height="6.2" fill="#5cc763"/>
<rect x="943.8" y="614.9" width="6.2" height="6.2" fill="#66cb5c"/>
<rect x="949.8" y="614.9" width="6.2" height="6.2" fill="#71ce56"/>
<rect x="955.8" y="614.9" width="6.2" height="6.2" fill="#7bd250"/>
<rect x="961.8" y="614.9" width="6.2" height="6.2" fill="#88d448"/>
<rect x="967.8" y="614.9" width="6.2" height="6.2" fill="#95d740"/>
<rect x="973.8" y="614.9" width="6.2" height="6.2" fill="#a2d938"/>
<rect x="979.8" y="614.9" width="6.2" height="6.2" fill="#afdc2f"/>
<rect x="985.8" y="614.9" width="6.2" height="6.2" fill="#bbde27"/>
<rect x="991.8" y="614.9" width="6.2" height="6.2" fill="#c7e026"/>
<rect x="997.8" y="614.9" width="6.2" height="6.2" fill="#d3e226"/>
<rect x="1003.8" y="614.9" width="6.2" height="6.2" fill="#dfe325"/>
<rect x="1009.8" y="614.9" width="6.2" height="6.2" fill="#ebe525"/>
<rect x="1015.8" y="614.9" width="6.2" height="6.2" fill="#f7e625"/>
<rect x="1021.8" y="614.9" width="6.2" height="6.2" fill="#33093f"/>
</g>
<line x1="802.8" y1="401.9" x2="805.8" y2="401.9" stroke="#333"/>
<text x="800.8" y="406.7" font-size="14" text-anchor="end">4</text>
<line x1="808.8" y1="620.9" x2="808.8" y2="623.9" stroke="#333"/>
<text x="808.8" y="635.5" font-size="14" text-anchor="middle">4</text>
<line x1="802.8" y1="461.9" x2="805.8" y2="461.9" stroke="#333"/>
<text x="800.8" y="466.7" font-size="14" text-anchor="end">44</text>
<line x1="868.8" y1="620.9" x2="868.8" y2="623.9" stroke="#333"/>
<text x="868.8" y="635.5" font-size="14" text-anchor="middle">44</text>
<line x1="802.8" y1="521.9" x2="805.8" y2="521.9" stroke="#333"/>
<text x="800.8" y="526.7" font-size="14" text-anchor="end">84</text>
<line x1="928.8" y1="620.9" x2="928.8" y2="623.9" stroke="#333"/>
<text x="928.8" y="635.5" font-size="14" text-anchor="middle">84</text>
<line x1="802.8" y1="581.9" x2="805.8" y2="581.9" stroke="#333"/>
<text x="800.8" y="586.7" font-size="14" text-anchor="end">124</text>
<line x1="988.8" y1="620.9" x2="988.8" y2="623.9" stroke="#333"/>
<text x="988.8" y="635.5" font-size="14" text-anchor="middle">124</text>
<text x="916.8" y="651.2" font-size="14" text-anchor="middle">Step (x1000)</text>
<defs><linearGradient id="vg" x1="0" y1="1" x2="0" y2="0">
<stop offset="0.00" stop-color="#440154"/>
<stop offset="0.05" stop-color="#461364"/>
<stop offset="0.10" stop-color="#482475"/>
<stop offset="0.15" stop-color="#44347e"/>
<stop offset="0.20" stop-color="#414487"/>
<stop offset="0.25" stop-color="#3b518a"/>
<stop offset="0.30" stop-color="#355f8d"/>
<stop offset="0.35" stop-color="#2f6b8e"/>
<stop offset="0.40" stop-color="#2a788e"/>
<stop offset="0.45" stop-color="#25848d"/>
<stop offset="0.50" stop-color="#21918c"/>
<stop offset="0.55" stop-color="#219c88"/>
<stop offset="0.60" stop-color="#22a884"/>
<stop offset="0.65" stop-color="#33b37a"/>
<stop offset="0.70" stop-color="#44bf70"/>
<stop offset="0.75" stop-color="#5fc861"/>
<stop offset="0.80" stop-color="#7ad151"/>
<stop offset="0.85" stop-color="#9bd83c"/>
<stop offset="0.90" stop-color="#bddf26"/>
<stop offset="0.95" stop-color="#dde325"/>
<stop offset="1.00" stop-color="#fde725"/>
</linearGradient></defs>
<rect x="1041.0" y="394.0" width="12.3" height="231.0" fill="url(#vg)" stroke="#333" stroke-width="0.8"/>
<line x1="1053.3" y1="625.0" x2="1056.3" y2="625.0" stroke="#333"/>
<text x="1057.8" y="630.4" font-size="14">0.0</text>
<line x1="1053.3" y1="576.8" x2="1056.3" y2="576.8" stroke="#333"/>
<text x="1057.8" y="582.1" font-size="14">0.2</text>
<line x1="1053.3" y1="528.5" x2="1056.3" y2="528.5" stroke="#333"/>
<text x="1057.8" y="533.9" font-size="14">0.4</text>
<line x1="1053.3" y1="480.2" x2="1056.3" y2="480.2" stroke="#333"/>
<text x="1057.8" y="485.6" font-size="14">0.6</text>
<line x1="1053.3" y1="432.0" x2="1056.3" y2="432.0" stroke="#333"/>
<text x="1057.8" y="437.4" font-size="14">0.8</text>
</svg>

<div class="abs cap" id="cap" style="left:164.6px"><span id="c0">(a) Activation Sparsity w.r.t Step</span></div>
<div class="abs cap" style="right:503.2px;letter-spacing:0.5px"><span id="c1">(b) Consecutive Act.<i></i> Pattern Similarity w.r.t Step</span></div>
<div class="abs cap" style="left:787.4px;letter-spacing:0.58px"><span id="c2">(c) Pairwise Act.<i></i> Pattern Similarity (GPT)</span></div>
<div class="abs" id="foot"><span class="sx" id="f0">[1] Zhang et al. Exploring the Benefit of Activation Sparsity in Pre<span style="display:inline-block;width:0.556em;text-align:center;transform:scaleX(1.6)">-</span>training. ICML 2024.</span></div>

<div class="abs" style="left:1038px;top:24px;width:116px;height:37px;background:#fbfbfb;border-radius:4px;filter:blur(1.5px)"></div>
<div class="abs" id="bili"><span class="sx" style="transform:scaleX(0.74)">bilibili</span></div>

<svg id="tools" width="170" height="30" viewBox="0 0 170 30" style="position:absolute;left:0;top:692.4px">
<g fill="#555" stroke="none">
<circle cx="10.5" cy="17" r="8"/>
<circle cx="127" cy="17" r="8"/>
<circle cx="150.5" cy="17" r="8"/>
<rect x="73" y="10" width="15.5" height="13" rx="1.5"/>
<rect x="96" y="11" width="11" height="12" rx="1.5"/>
<path d="M108 16.5L112 13.5V21L108 18Z"/>
<path d="M26.6 24.3L28.2 19L38.6 8.6L42 12L31.7 22.5Z"/>
</g>
<g fill="none" stroke="#fff" stroke-width="1.6" stroke-linecap="round" stroke-linejoin="round">
<path d="M14.5 17H6.5M10 13.5L6.5 17L10 20.5"/>
<path d="M146.5 17H154.500M151 13.500L154.500 17L151 20.500"/>
</g>
<g fill="#fff"><circle cx="123" cy="17" r="1.1"/><circle cx="127" cy="17" r="1.1"/><circle cx="131" cy="17" r="1.1"/></g>
<g fill="none" stroke="#555" stroke-width="1.8" stroke-linecap="round"><circle cx="55.6" cy="14.8" r="4.3"/><path d="M59 18.200L64.200 23.400"/></g>
<text x="80.800" y="20.300" font-family="Liberation Sans, sans-serif" font-size="9.500" font-weight="bold" fill="#fff" text-anchor="middle">CC</text>
</svg>

<div class="abs" id="sub">去分析下这个模型的一个特点</div>
<div class="abs" id="wm">掘金技术社区 @ 野风同学</div>
<div class="abs" style="left:1271px;top:3px;width:5px;height:5px;border-radius:50%;background:#b59a3c"></div>
</body></html>
